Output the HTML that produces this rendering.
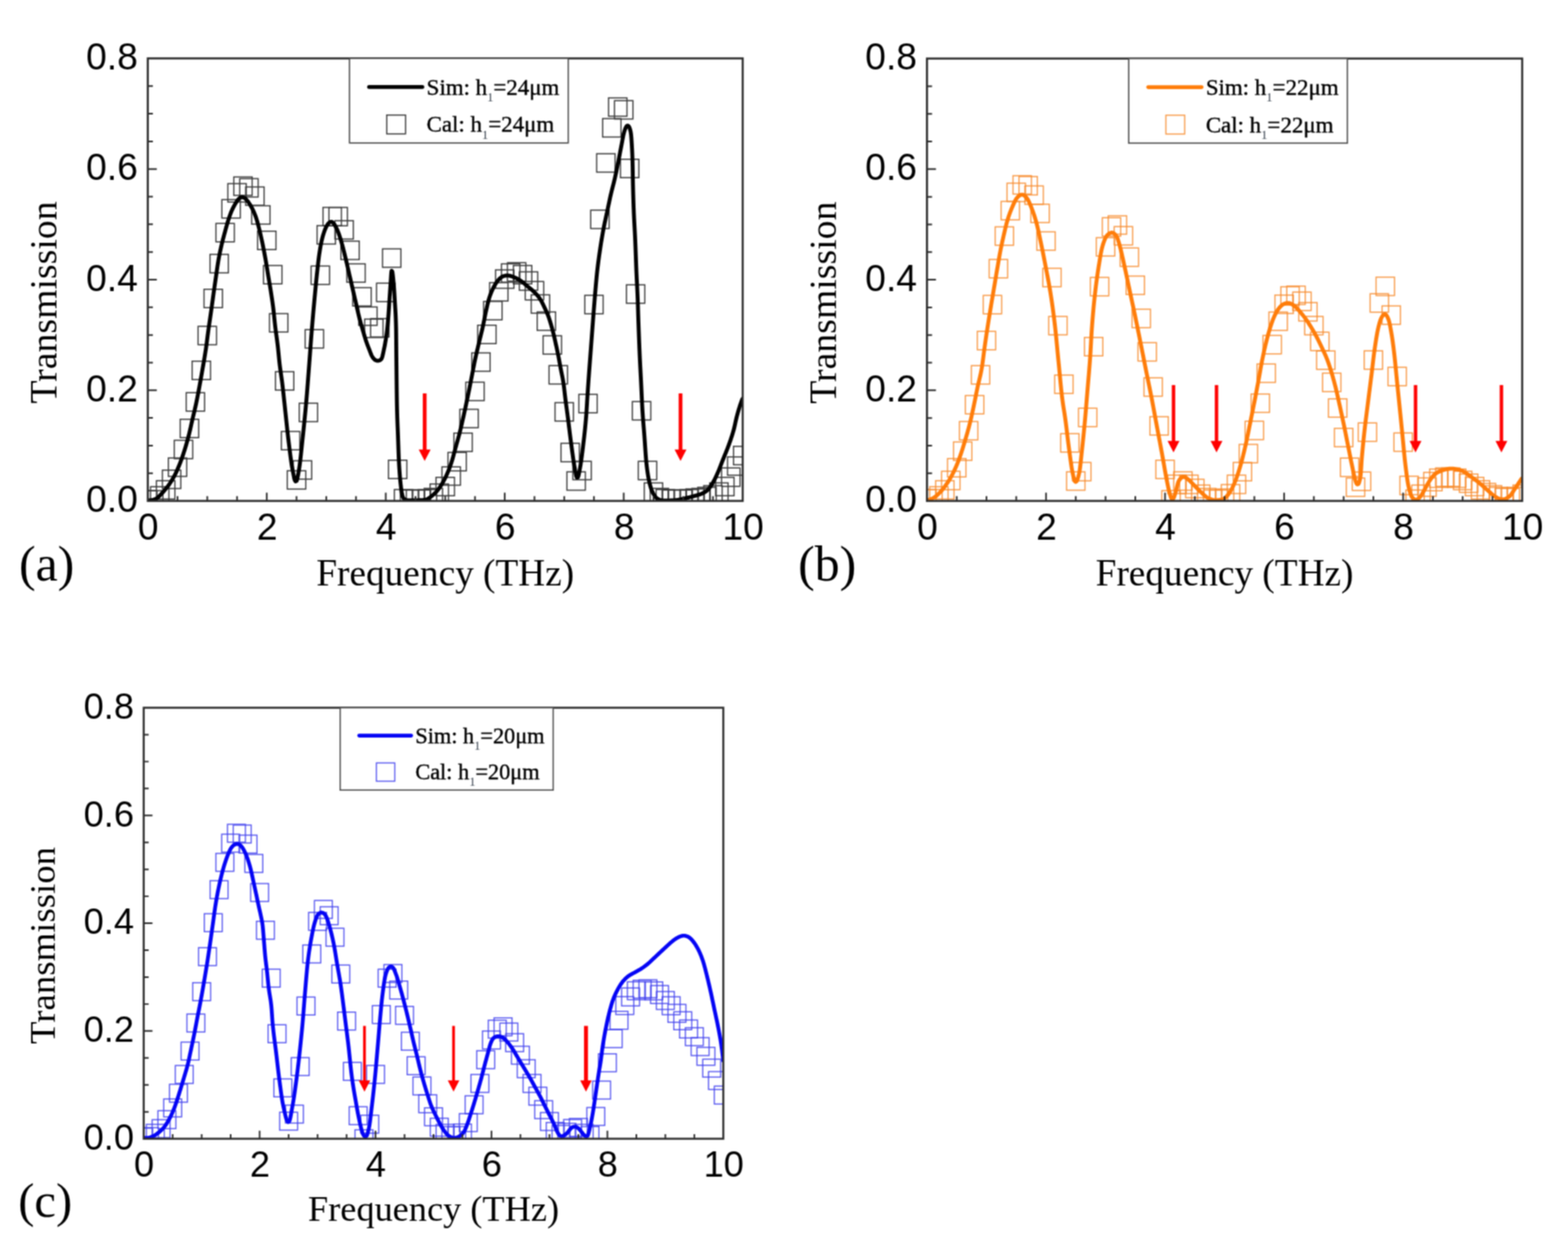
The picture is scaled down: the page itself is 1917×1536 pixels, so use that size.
<!DOCTYPE html>
<html><head><meta charset="utf-8"><title>Transmission spectra</title>
<style>html,body{margin:0;padding:0;background:#fff;}body{width:1917px;height:1536px;overflow:hidden;}svg{display:block;}</style>
</head><body>
<svg width="1917" height="1536" viewBox="0 0 1917 1536">
<rect x="0" y="0" width="1917" height="1536" fill="#ffffff"/>
<defs>
<filter id="soft" x="0" y="0" width="100%" height="100%" filterUnits="userSpaceOnUse" color-interpolation-filters="sRGB"><feConvolveMatrix order="3" kernelMatrix="1 2 1 2 4 2 1 2 1" divisor="16" edgeMode="duplicate"/></filter>
<clipPath id="clipa"><rect x="180.70" y="71.40" width="727.30" height="541.20"/></clipPath>
<clipPath id="clipb"><rect x="1133.30" y="71.60" width="727.70" height="541.00"/></clipPath>
<clipPath id="clipc"><rect x="175.70" y="865.50" width="708.60" height="527.10"/></clipPath>
</defs>
<g filter="url(#soft)">
<g clip-path="url(#clipa)" fill="none" stroke="#3c3c3c" stroke-width="1.50" stroke-opacity="1.00">
<rect x="169.45" y="600.00" width="22.50" height="22.50"/>
<rect x="176.72" y="600.00" width="22.50" height="22.50"/>
<rect x="184.00" y="595.26" width="22.50" height="22.50"/>
<rect x="191.27" y="587.82" width="22.50" height="22.50"/>
<rect x="198.54" y="574.97" width="22.50" height="22.50"/>
<rect x="205.81" y="560.08" width="22.50" height="22.50"/>
<rect x="213.09" y="538.44" width="22.50" height="22.50"/>
<rect x="220.36" y="512.73" width="22.50" height="22.50"/>
<rect x="227.63" y="480.26" width="22.50" height="22.50"/>
<rect x="234.91" y="441.70" width="22.50" height="22.50"/>
<rect x="242.18" y="399.08" width="22.50" height="22.50"/>
<rect x="249.45" y="353.75" width="22.50" height="22.50"/>
<rect x="256.73" y="311.13" width="22.50" height="22.50"/>
<rect x="264.00" y="273.25" width="22.50" height="22.50"/>
<rect x="271.27" y="244.16" width="22.50" height="22.50"/>
<rect x="278.54" y="224.54" width="22.50" height="22.50"/>
<rect x="285.82" y="216.42" width="22.50" height="22.50"/>
<rect x="293.09" y="218.45" width="22.50" height="22.50"/>
<rect x="300.36" y="228.60" width="22.50" height="22.50"/>
<rect x="307.64" y="251.60" width="22.50" height="22.50"/>
<rect x="314.91" y="282.72" width="22.50" height="22.50"/>
<rect x="322.18" y="324.66" width="22.50" height="22.50"/>
<rect x="329.46" y="383.52" width="22.50" height="22.50"/>
<rect x="336.73" y="454.55" width="22.50" height="22.50"/>
<rect x="344.00" y="527.61" width="22.50" height="22.50"/>
<rect x="351.27" y="575.64" width="22.50" height="22.50"/>
<rect x="358.55" y="563.47" width="22.50" height="22.50"/>
<rect x="365.82" y="493.11" width="22.50" height="22.50"/>
<rect x="373.09" y="403.14" width="22.50" height="22.50"/>
<rect x="380.37" y="325.34" width="22.50" height="22.50"/>
<rect x="387.64" y="275.95" width="22.50" height="22.50"/>
<rect x="394.91" y="253.63" width="22.50" height="22.50"/>
<rect x="402.19" y="253.63" width="22.50" height="22.50"/>
<rect x="409.46" y="269.87" width="22.50" height="22.50"/>
<rect x="416.73" y="294.90" width="22.50" height="22.50"/>
<rect x="424.00" y="322.63" width="22.50" height="22.50"/>
<rect x="431.28" y="351.72" width="22.50" height="22.50"/>
<rect x="438.55" y="375.40" width="22.50" height="22.50"/>
<rect x="445.82" y="390.28" width="22.50" height="22.50"/>
<rect x="453.10" y="389.61" width="22.50" height="22.50"/>
<rect x="460.37" y="346.31" width="22.50" height="22.50"/>
<rect x="467.64" y="304.37" width="22.50" height="22.50"/>
<rect x="474.92" y="562.79" width="22.50" height="22.50"/>
<rect x="482.19" y="598.64" width="22.50" height="22.50"/>
<rect x="489.46" y="599.32" width="22.50" height="22.50"/>
<rect x="496.73" y="599.32" width="22.50" height="22.50"/>
<rect x="504.01" y="599.32" width="22.50" height="22.50"/>
<rect x="511.28" y="598.64" width="22.50" height="22.50"/>
<rect x="518.55" y="597.29" width="22.50" height="22.50"/>
<rect x="525.83" y="591.88" width="22.50" height="22.50"/>
<rect x="533.10" y="583.76" width="22.50" height="22.50"/>
<rect x="540.37" y="570.91" width="22.50" height="22.50"/>
<rect x="547.65" y="553.32" width="22.50" height="22.50"/>
<rect x="554.92" y="529.64" width="22.50" height="22.50"/>
<rect x="562.19" y="500.55" width="22.50" height="22.50"/>
<rect x="569.46" y="467.40" width="22.50" height="22.50"/>
<rect x="576.74" y="431.55" width="22.50" height="22.50"/>
<rect x="584.01" y="397.72" width="22.50" height="22.50"/>
<rect x="591.28" y="368.63" width="22.50" height="22.50"/>
<rect x="598.56" y="345.63" width="22.50" height="22.50"/>
<rect x="605.83" y="330.07" width="22.50" height="22.50"/>
<rect x="613.10" y="322.63" width="22.50" height="22.50"/>
<rect x="620.38" y="321.28" width="22.50" height="22.50"/>
<rect x="627.65" y="324.66" width="22.50" height="22.50"/>
<rect x="634.92" y="332.44" width="22.50" height="22.50"/>
<rect x="642.19" y="344.28" width="22.50" height="22.50"/>
<rect x="649.47" y="360.52" width="22.50" height="22.50"/>
<rect x="656.74" y="381.49" width="22.50" height="22.50"/>
<rect x="664.01" y="410.58" width="22.50" height="22.50"/>
<rect x="671.29" y="447.11" width="22.50" height="22.50"/>
<rect x="678.56" y="492.43" width="22.50" height="22.50"/>
<rect x="685.83" y="542.16" width="22.50" height="22.50"/>
<rect x="693.11" y="577.00" width="22.50" height="22.50"/>
<rect x="700.38" y="564.14" width="22.50" height="22.50"/>
<rect x="707.65" y="482.29" width="22.50" height="22.50"/>
<rect x="714.92" y="361.19" width="22.50" height="22.50"/>
<rect x="722.20" y="257.01" width="22.50" height="22.50"/>
<rect x="729.47" y="188.01" width="22.50" height="22.50"/>
<rect x="736.74" y="145.05" width="22.50" height="22.50"/>
<rect x="744.02" y="119.68" width="22.50" height="22.50"/>
<rect x="751.29" y="123.06" width="22.50" height="22.50"/>
<rect x="758.56" y="194.77" width="22.50" height="22.50"/>
<rect x="765.84" y="348.34" width="22.50" height="22.50"/>
<rect x="773.11" y="491.08" width="22.50" height="22.50"/>
<rect x="780.38" y="564.14" width="22.50" height="22.50"/>
<rect x="787.65" y="590.53" width="22.50" height="22.50"/>
<rect x="794.93" y="597.29" width="22.50" height="22.50"/>
<rect x="802.20" y="598.64" width="22.50" height="22.50"/>
<rect x="809.47" y="599.32" width="22.50" height="22.50"/>
<rect x="816.75" y="599.32" width="22.50" height="22.50"/>
<rect x="824.02" y="599.32" width="22.50" height="22.50"/>
<rect x="831.29" y="598.64" width="22.50" height="22.50"/>
<rect x="838.57" y="597.97" width="22.50" height="22.50"/>
<rect x="845.84" y="597.29" width="22.50" height="22.50"/>
<rect x="853.11" y="595.94" width="22.50" height="22.50"/>
<rect x="860.38" y="593.91" width="22.50" height="22.50"/>
<rect x="867.66" y="590.53" width="22.50" height="22.50"/>
<rect x="874.93" y="583.76" width="22.50" height="22.50"/>
<rect x="882.20" y="572.26" width="22.50" height="22.50"/>
<rect x="889.48" y="558.73" width="22.50" height="22.50"/>
<rect x="896.75" y="545.88" width="22.50" height="22.50"/>
</g>
<path clip-path="url(#clipa)" d="M181.50,611.96 L182.86,611.85 L184.21,611.69 L185.42,611.51 L186.64,611.27 L187.85,610.99 L189.04,610.65 L190.19,610.21 L191.29,609.65 L192.31,608.97 L193.26,608.18 L194.16,607.32 L195.03,606.43 L195.87,605.51 L196.72,604.59 L197.56,603.67 L198.41,602.75 L199.26,601.83 L200.09,600.90 L200.92,599.96 L201.73,599.01 L202.52,598.05 L203.31,597.07 L204.08,596.09 L204.84,595.10 L205.58,594.09 L206.31,593.08 L207.03,592.06 L207.74,591.02 L208.43,589.98 L209.11,588.93 L209.77,587.88 L210.42,586.81 L211.07,585.74 L211.69,584.66 L212.31,583.57 L212.91,582.47 L213.50,581.37 L214.07,580.26 L214.63,579.14 L215.17,578.02 L215.70,576.88 L216.22,575.75 L216.73,574.61 L217.23,573.46 L217.72,572.31 L218.20,571.16 L218.68,570.00 L219.15,568.84 L219.62,567.68 L220.07,566.52 L220.52,565.36 L220.97,564.19 L221.40,563.01 L221.83,561.84 L222.25,560.66 L222.67,559.48 L223.07,558.30 L223.48,557.12 L223.88,555.93 L224.27,554.75 L224.66,553.56 L225.04,552.37 L225.42,551.18 L225.80,549.99 L226.17,548.79 L226.53,547.60 L226.89,546.40 L227.25,545.20 L227.60,544.00 L227.95,542.80 L228.29,541.60 L228.63,540.40 L228.97,539.19 L229.30,537.99 L229.62,536.78 L229.95,535.57 L230.26,534.37 L230.58,533.16 L230.89,531.94 L231.19,530.73 L231.48,529.52 L231.77,528.30 L232.06,527.08 L232.34,525.87 L232.62,524.65 L232.90,523.43 L233.18,522.21 L233.45,520.99 L233.72,519.77 L234.00,518.55 L234.27,517.33 L234.55,516.11 L234.82,514.89 L235.10,513.67 L235.38,512.46 L235.67,511.24 L235.95,510.02 L236.24,508.81 L236.53,507.59 L236.82,506.37 L237.11,505.16 L237.40,503.94 L237.69,502.73 L237.97,501.51 L238.26,500.29 L238.54,499.07 L238.82,497.86 L239.09,496.64 L239.36,495.42 L239.63,494.19 L239.89,492.97 L240.15,491.75 L240.40,490.53 L240.65,489.30 L240.90,488.08 L241.14,486.85 L241.38,485.62 L241.62,484.39 L241.85,483.17 L242.09,481.94 L242.32,480.71 L242.55,479.48 L242.78,478.25 L243.01,477.02 L243.23,475.80 L243.46,474.57 L243.69,473.34 L243.92,472.11 L244.14,470.88 L244.37,469.65 L244.59,468.42 L244.82,467.19 L245.04,465.96 L245.26,464.73 L245.48,463.50 L245.70,462.27 L245.92,461.04 L246.14,459.81 L246.36,458.58 L246.57,457.34 L246.79,456.11 L247.00,454.88 L247.22,453.65 L247.43,452.42 L247.65,451.19 L247.86,449.96 L248.07,448.72 L248.29,447.49 L248.50,446.26 L248.72,445.03 L248.93,443.80 L249.14,442.57 L249.36,441.33 L249.57,440.10 L249.78,438.87 L249.99,437.64 L250.19,436.41 L250.40,435.17 L250.60,433.94 L250.80,432.70 L251.00,431.47 L251.19,430.24 L251.38,429.00 L251.57,427.76 L251.75,426.53 L251.93,425.29 L252.10,424.05 L252.27,422.81 L252.44,421.58 L252.60,420.34 L252.77,419.10 L252.93,417.86 L253.08,416.62 L253.24,415.38 L253.40,414.14 L253.56,412.90 L253.71,411.66 L253.87,410.42 L254.03,409.18 L254.19,407.94 L254.36,406.70 L254.52,405.46 L254.69,404.22 L254.86,402.98 L255.04,401.75 L255.21,400.51 L255.39,399.27 L255.57,398.03 L255.76,396.80 L255.94,395.56 L256.12,394.32 L256.31,393.09 L256.49,391.85 L256.68,390.62 L256.86,389.38 L257.04,388.14 L257.22,386.91 L257.40,385.67 L257.58,384.43 L257.75,383.19 L257.93,381.96 L258.10,380.72 L258.27,379.48 L258.44,378.24 L258.61,377.00 L258.78,375.76 L258.95,374.52 L259.12,373.29 L259.28,372.05 L259.45,370.81 L259.62,369.57 L259.79,368.33 L259.97,367.09 L260.14,365.86 L260.31,364.62 L260.48,363.38 L260.66,362.14 L260.83,360.90 L261.00,359.67 L261.18,358.43 L261.35,357.19 L261.53,355.95 L261.70,354.72 L261.88,353.48 L262.06,352.24 L262.23,351.00 L262.41,349.77 L262.58,348.53 L262.76,347.29 L262.94,346.05 L263.12,344.82 L263.30,343.58 L263.47,342.34 L263.65,341.10 L263.83,339.87 L264.01,338.63 L264.19,337.39 L264.36,336.16 L264.54,334.92 L264.72,333.68 L264.89,332.44 L265.07,331.20 L265.24,329.97 L265.42,328.73 L265.60,327.49 L265.78,326.26 L265.96,325.02 L266.15,323.78 L266.34,322.55 L266.54,321.31 L266.74,320.08 L266.95,318.85 L267.16,317.62 L267.38,316.39 L267.61,315.16 L267.84,313.93 L268.08,312.70 L268.32,311.47 L268.56,310.25 L268.81,309.02 L269.06,307.80 L269.32,306.58 L269.59,305.36 L269.85,304.13 L270.13,302.91 L270.40,301.69 L270.68,300.48 L270.97,299.26 L271.26,298.04 L271.55,296.83 L271.85,295.62 L272.16,294.40 L272.47,293.19 L272.79,291.98 L273.11,290.78 L273.43,289.57 L273.75,288.36 L274.07,287.15 L274.39,285.94 L274.72,284.74 L275.04,283.53 L275.37,282.32 L275.69,281.12 L276.02,279.91 L276.35,278.70 L276.68,277.50 L277.02,276.29 L277.36,275.09 L277.71,273.89 L278.06,272.69 L278.42,271.50 L278.79,270.30 L279.17,269.11 L279.55,267.92 L279.94,266.73 L280.34,265.55 L280.74,264.36 L281.15,263.19 L281.58,262.01 L282.02,260.84 L282.48,259.68 L282.95,258.52 L283.45,257.37 L283.96,256.24 L284.50,255.11 L285.05,253.99 L285.62,252.87 L286.21,251.77 L286.82,250.68 L287.44,249.60 L288.08,248.52 L288.73,247.46 L289.41,246.41 L290.12,245.38 L290.86,244.38 L291.65,243.42 L292.49,242.54 L293.60,241.67 L294.85,241.16 L296.20,241.09 L297.56,241.41 L298.85,242.04 L299.83,242.76 L300.73,243.59 L301.57,244.51 L302.37,245.46 L303.13,246.46 L303.85,247.47 L304.55,248.51 L305.23,249.56 L305.88,250.62 L306.51,251.70 L307.13,252.78 L307.73,253.88 L308.32,254.99 L308.88,256.10 L309.43,257.22 L309.95,258.36 L310.46,259.50 L310.96,260.65 L311.43,261.80 L311.89,262.96 L312.34,264.13 L312.76,265.31 L313.17,266.49 L313.56,267.67 L313.93,268.87 L314.29,270.07 L314.63,271.27 L314.96,272.47 L315.28,273.68 L315.60,274.89 L315.91,276.10 L316.22,277.31 L316.53,278.52 L316.83,279.74 L317.13,280.95 L317.43,282.16 L317.72,283.38 L318.01,284.59 L318.30,285.81 L318.58,287.03 L318.85,288.25 L319.13,289.47 L319.40,290.69 L319.67,291.91 L319.93,293.13 L320.19,294.35 L320.45,295.58 L320.71,296.80 L320.97,298.02 L321.22,299.25 L321.47,300.47 L321.72,301.70 L321.96,302.92 L322.21,304.15 L322.44,305.38 L322.68,306.60 L322.92,307.83 L323.15,309.06 L323.38,310.29 L323.61,311.52 L323.84,312.74 L324.06,313.97 L324.29,315.20 L324.51,316.43 L324.73,317.67 L324.94,318.90 L325.15,320.13 L325.36,321.36 L325.57,322.59 L325.77,323.83 L325.98,325.06 L326.18,326.29 L326.38,327.53 L326.58,328.76 L326.78,330.00 L326.98,331.23 L327.17,332.46 L327.38,333.70 L327.58,334.93 L327.78,336.16 L327.98,337.40 L328.19,338.63 L328.40,339.86 L328.60,341.10 L328.81,342.33 L329.02,343.56 L329.23,344.79 L329.44,346.03 L329.64,347.26 L329.85,348.49 L330.05,349.73 L330.25,350.96 L330.45,352.19 L330.65,353.43 L330.85,354.66 L331.04,355.90 L331.23,357.13 L331.43,358.37 L331.62,359.60 L331.81,360.84 L332.00,362.07 L332.19,363.31 L332.38,364.54 L332.57,365.78 L332.75,367.02 L332.93,368.25 L333.11,369.49 L333.28,370.73 L333.45,371.97 L333.62,373.21 L333.78,374.44 L333.94,375.68 L334.10,376.92 L334.24,378.17 L334.39,379.41 L334.53,380.65 L334.66,381.89 L334.79,383.14 L334.92,384.38 L335.04,385.62 L335.16,386.87 L335.29,388.11 L335.41,389.36 L335.53,390.60 L335.66,391.84 L335.79,393.09 L335.91,394.33 L336.05,395.57 L336.18,396.82 L336.32,398.06 L336.47,399.30 L336.62,400.54 L336.77,401.78 L336.93,403.02 L337.09,404.26 L337.26,405.50 L337.43,406.74 L337.60,407.97 L337.77,409.21 L337.95,410.45 L338.12,411.69 L338.29,412.93 L338.47,414.16 L338.63,415.40 L338.80,416.64 L338.96,417.88 L339.12,419.12 L339.27,420.36 L339.42,421.60 L339.57,422.84 L339.71,424.09 L339.84,425.33 L339.97,426.57 L340.10,427.82 L340.22,429.06 L340.35,430.30 L340.47,431.55 L340.59,432.79 L340.71,434.04 L340.83,435.28 L340.95,436.52 L341.07,437.77 L341.19,439.01 L341.32,440.26 L341.45,441.50 L341.58,442.74 L341.72,443.98 L341.86,445.23 L342.01,446.47 L342.17,447.71 L342.33,448.95 L342.49,450.19 L342.66,451.43 L342.83,452.66 L343.01,453.90 L343.19,455.14 L343.37,456.37 L343.55,457.61 L343.73,458.85 L343.92,460.08 L344.09,461.32 L344.27,462.56 L344.44,463.80 L344.61,465.04 L344.77,466.28 L344.93,467.52 L345.09,468.76 L345.24,470.00 L345.39,471.24 L345.53,472.48 L345.68,473.72 L345.82,474.96 L345.96,476.20 L346.10,477.45 L346.24,478.69 L346.37,479.93 L346.51,481.17 L346.64,482.42 L346.77,483.66 L346.90,484.90 L347.04,486.15 L347.17,487.39 L347.30,488.63 L347.43,489.88 L347.56,491.12 L347.69,492.36 L347.82,493.61 L347.95,494.85 L348.08,496.09 L348.22,497.33 L348.35,498.58 L348.48,499.82 L348.61,501.06 L348.75,502.31 L348.88,503.55 L349.02,504.79 L349.15,506.03 L349.29,507.28 L349.42,508.52 L349.56,509.76 L349.69,511.01 L349.82,512.25 L349.95,513.49 L350.08,514.73 L350.22,515.98 L350.35,517.22 L350.48,518.46 L350.61,519.71 L350.74,520.95 L350.88,522.19 L351.01,523.44 L351.14,524.68 L351.27,525.92 L351.41,527.16 L351.54,528.41 L351.68,529.65 L351.82,530.89 L351.95,532.13 L352.09,533.38 L352.23,534.62 L352.38,535.86 L352.52,537.10 L352.66,538.34 L352.81,539.59 L352.96,540.83 L353.11,542.07 L353.27,543.31 L353.42,544.55 L353.58,545.79 L353.73,547.03 L353.89,548.27 L354.04,549.51 L354.20,550.75 L354.36,551.99 L354.52,553.23 L354.68,554.47 L354.84,555.71 L355.00,556.95 L355.16,558.19 L355.33,559.43 L355.50,560.66 L355.67,561.90 L355.84,563.14 L356.02,564.38 L356.20,565.62 L356.38,566.85 L356.57,568.09 L356.77,569.32 L356.97,570.55 L357.19,571.79 L357.41,573.02 L357.64,574.24 L357.87,575.47 L358.11,576.70 L358.34,577.93 L358.58,579.16 L358.81,580.38 L359.05,581.61 L359.30,582.84 L359.56,584.06 L359.84,585.27 L360.15,586.45 L360.62,587.74 L361.43,588.76 L362.51,588.16 L363.02,587.00 L363.41,585.61 L363.69,584.40 L363.94,583.18 L364.18,581.95 L364.41,580.72 L364.63,579.49 L364.85,578.26 L365.07,577.03 L365.28,575.80 L365.50,574.57 L365.70,573.33 L365.90,572.10 L366.09,570.86 L366.27,569.63 L366.44,568.39 L366.60,567.15 L366.76,565.91 L366.91,564.67 L367.06,563.43 L367.21,562.19 L367.35,560.94 L367.49,559.70 L367.63,558.46 L367.76,557.22 L367.90,555.97 L368.03,554.73 L368.16,553.49 L368.29,552.25 L368.42,551.00 L368.55,549.76 L368.68,548.52 L368.81,547.27 L368.94,546.03 L369.07,544.79 L369.20,543.54 L369.33,542.30 L369.46,541.06 L369.59,539.81 L369.72,538.57 L369.85,537.33 L369.99,536.08 L370.12,534.84 L370.25,533.60 L370.39,532.36 L370.52,531.11 L370.65,529.87 L370.78,528.63 L370.91,527.38 L371.04,526.14 L371.17,524.90 L371.30,523.65 L371.43,522.41 L371.56,521.17 L371.69,519.92 L371.81,518.68 L371.94,517.44 L372.06,516.19 L372.19,514.95 L372.31,513.70 L372.43,512.46 L372.56,511.22 L372.68,509.97 L372.80,508.73 L372.92,507.48 L373.04,506.24 L373.16,505.00 L373.28,503.75 L373.39,502.51 L373.51,501.26 L373.62,500.02 L373.74,498.77 L373.85,497.53 L373.97,496.28 L374.08,495.04 L374.19,493.79 L374.30,492.55 L374.41,491.30 L374.52,490.06 L374.63,488.81 L374.74,487.57 L374.84,486.32 L374.95,485.08 L375.05,483.83 L375.15,482.58 L375.26,481.34 L375.36,480.09 L375.46,478.85 L375.56,477.60 L375.66,476.35 L375.76,475.11 L375.85,473.86 L375.95,472.62 L376.05,471.37 L376.15,470.12 L376.25,468.88 L376.34,467.63 L376.44,466.39 L376.53,465.14 L376.63,463.89 L376.73,462.65 L376.82,461.40 L376.92,460.15 L377.01,458.91 L377.11,457.66 L377.21,456.41 L377.30,455.17 L377.40,453.92 L377.49,452.68 L377.59,451.43 L377.69,450.18 L377.78,448.94 L377.88,447.69 L377.97,446.44 L378.07,445.20 L378.16,443.95 L378.25,442.70 L378.35,441.46 L378.44,440.21 L378.53,438.96 L378.62,437.72 L378.71,436.47 L378.81,435.22 L378.90,433.98 L378.99,432.73 L379.08,431.48 L379.17,430.24 L379.26,428.99 L379.35,427.74 L379.44,426.50 L379.53,425.25 L379.63,424.00 L379.72,422.76 L379.81,421.51 L379.90,420.26 L380.00,419.02 L380.09,417.77 L380.18,416.53 L380.28,415.28 L380.37,414.03 L380.47,412.79 L380.56,411.54 L380.66,410.29 L380.76,409.05 L380.86,407.80 L380.96,406.56 L381.06,405.31 L381.16,404.06 L381.26,402.82 L381.36,401.57 L381.47,400.33 L381.57,399.08 L381.67,397.83 L381.78,396.59 L381.88,395.34 L381.99,394.10 L382.09,392.85 L382.20,391.61 L382.31,390.36 L382.41,389.12 L382.52,387.87 L382.63,386.63 L382.74,385.38 L382.85,384.14 L382.96,382.89 L383.07,381.64 L383.18,380.40 L383.29,379.15 L383.40,377.91 L383.51,376.66 L383.62,375.42 L383.74,374.17 L383.85,372.93 L383.96,371.69 L384.08,370.44 L384.19,369.20 L384.30,367.95 L384.42,366.71 L384.53,365.46 L384.65,364.22 L384.76,362.97 L384.88,361.73 L385.00,360.48 L385.11,359.24 L385.23,357.99 L385.34,356.75 L385.46,355.50 L385.58,354.26 L385.70,353.02 L385.82,351.77 L385.94,350.53 L386.06,349.28 L386.18,348.04 L386.30,346.79 L386.42,345.55 L386.55,344.31 L386.67,343.06 L386.80,341.82 L386.92,340.58 L387.05,339.33 L387.18,338.09 L387.31,336.85 L387.44,335.60 L387.57,334.36 L387.71,333.12 L387.84,331.87 L387.97,330.63 L388.11,329.39 L388.24,328.15 L388.38,326.90 L388.51,325.66 L388.65,324.42 L388.79,323.18 L388.93,321.93 L389.07,320.69 L389.22,319.45 L389.36,318.21 L389.52,316.97 L389.67,315.73 L389.83,314.49 L389.99,313.25 L390.16,312.01 L390.34,310.77 L390.52,309.54 L390.71,308.30 L390.90,307.06 L391.09,305.83 L391.30,304.60 L391.50,303.36 L391.72,302.13 L391.94,300.90 L392.17,299.67 L392.42,298.45 L392.67,297.22 L392.93,296.00 L393.20,294.78 L393.48,293.56 L393.77,292.35 L394.07,291.14 L394.39,289.93 L394.72,288.72 L395.06,287.52 L395.42,286.32 L395.80,285.13 L396.19,283.94 L396.60,282.76 L397.03,281.59 L397.49,280.43 L397.97,279.28 L398.49,278.14 L399.04,277.02 L399.63,275.92 L400.28,274.86 L400.99,273.85 L401.79,272.92 L402.86,271.97 L404.04,271.36 L405.25,271.27 L406.41,271.75 L407.43,272.67 L408.19,273.62 L408.90,274.64 L409.56,275.69 L410.20,276.77 L410.80,277.86 L411.36,278.98 L411.89,280.11 L412.39,281.25 L412.87,282.41 L413.33,283.57 L413.78,284.73 L414.22,285.90 L414.64,287.08 L415.06,288.26 L415.45,289.44 L415.84,290.63 L416.21,291.83 L416.56,293.02 L416.92,294.22 L417.26,295.42 L417.60,296.63 L417.94,297.83 L418.27,299.04 L418.60,300.24 L418.92,301.45 L419.25,302.66 L419.56,303.87 L419.88,305.08 L420.19,306.29 L420.49,307.50 L420.79,308.71 L421.09,309.93 L421.39,311.14 L421.68,312.36 L421.97,313.57 L422.27,314.79 L422.56,316.00 L422.85,317.22 L423.14,318.43 L423.43,319.65 L423.71,320.87 L423.99,322.08 L424.27,323.30 L424.55,324.52 L424.83,325.74 L425.11,326.96 L425.39,328.18 L425.67,329.40 L425.94,330.61 L426.22,331.83 L426.50,333.05 L426.78,334.27 L427.06,335.49 L427.34,336.71 L427.62,337.92 L427.90,339.14 L428.18,340.36 L428.46,341.58 L428.74,342.80 L429.02,344.02 L429.30,345.23 L429.58,346.45 L429.86,347.67 L430.14,348.89 L430.43,350.11 L430.71,351.32 L430.99,352.54 L431.27,353.76 L431.55,354.98 L431.83,356.20 L432.11,357.41 L432.39,358.63 L432.67,359.85 L432.95,361.07 L433.23,362.29 L433.51,363.50 L433.79,364.72 L434.07,365.94 L434.35,367.16 L434.63,368.38 L434.91,369.60 L435.19,370.81 L435.47,372.03 L435.75,373.25 L436.02,374.47 L436.29,375.69 L436.57,376.91 L436.84,378.13 L437.11,379.35 L437.39,380.57 L437.67,381.79 L437.95,383.01 L438.24,384.22 L438.53,385.44 L438.82,386.65 L439.12,387.87 L439.43,389.08 L439.75,390.29 L440.07,391.49 L440.40,392.70 L440.73,393.91 L441.07,395.11 L441.41,396.31 L441.75,397.51 L442.10,398.72 L442.45,399.92 L442.79,401.12 L443.14,402.32 L443.49,403.52 L443.84,404.72 L444.18,405.92 L444.53,407.12 L444.88,408.32 L445.23,409.52 L445.58,410.72 L445.94,411.92 L446.30,413.11 L446.67,414.31 L447.05,415.50 L447.44,416.69 L447.85,417.87 L448.26,419.05 L448.68,420.22 L449.11,421.40 L449.55,422.57 L450.00,423.74 L450.45,424.90 L450.91,426.06 L451.36,427.23 L451.82,428.39 L452.26,429.56 L452.70,430.73 L453.15,431.90 L453.60,433.06 L454.09,434.21 L454.62,435.33 L455.23,436.41 L455.93,437.43 L456.71,438.39 L457.57,439.27 L458.51,440.04 L459.75,440.74 L461.11,441.11 L462.52,441.11 L463.89,440.78 L465.12,440.14 L466.10,439.18 L466.81,437.97 L467.23,436.83 L467.57,435.64 L467.87,434.43 L468.14,433.21 L468.41,431.99 L468.67,430.76 L468.93,429.54 L469.19,428.32 L469.45,427.10 L469.71,425.87 L469.96,424.65 L470.21,423.42 L470.45,422.20 L470.68,420.97 L470.90,419.74 L471.11,418.51 L471.32,417.27 L471.53,416.04 L471.72,414.81 L471.91,413.57 L472.10,412.33 L472.28,411.10 L472.45,409.86 L472.62,408.62 L472.78,407.38 L472.94,406.14 L473.09,404.90 L473.23,403.66 L473.37,402.42 L473.50,401.17 L473.62,399.93 L473.75,398.69 L473.87,397.44 L473.98,396.20 L474.10,394.95 L474.21,393.71 L474.32,392.46 L474.43,391.22 L474.53,389.97 L474.64,388.73 L474.74,387.48 L474.84,386.23 L474.94,384.99 L475.03,383.74 L475.12,382.50 L475.21,381.25 L475.30,380.00 L475.38,378.75 L475.46,377.51 L475.55,376.26 L475.63,375.01 L475.71,373.76 L475.79,372.52 L475.87,371.27 L475.95,370.02 L476.04,368.78 L476.12,367.53 L476.20,366.28 L476.29,365.03 L476.37,363.79 L476.45,362.54 L476.54,361.29 L476.62,360.05 L476.70,358.80 L476.79,357.55 L476.87,356.30 L476.95,355.06 L477.04,353.81 L477.12,352.56 L477.21,351.31 L477.30,350.07 L477.38,348.82 L477.47,347.57 L477.56,346.33 L477.65,345.08 L477.73,343.83 L477.81,342.59 L477.89,341.34 L477.96,340.09 L478.04,338.84 L478.11,337.59 L478.19,336.35 L478.27,335.10 L478.36,333.87 L478.50,332.46 L478.75,331.18 L479.62,332.16 L479.87,333.53 L480.04,334.75 L480.19,335.98 L480.33,337.23 L480.46,338.47 L480.59,339.71 L480.72,340.96 L480.84,342.20 L480.97,343.44 L481.09,344.69 L481.21,345.93 L481.32,347.18 L481.43,348.42 L481.53,349.67 L481.63,350.91 L481.72,352.16 L481.81,353.41 L481.89,354.65 L481.97,355.90 L482.05,357.15 L482.13,358.40 L482.20,359.65 L482.28,360.89 L482.35,362.14 L482.43,363.39 L482.50,364.64 L482.57,365.88 L482.64,367.13 L482.71,368.38 L482.78,369.63 L482.85,370.88 L482.93,372.12 L483.01,373.37 L483.08,374.62 L483.16,375.87 L483.24,377.11 L483.32,378.36 L483.40,379.61 L483.47,380.86 L483.54,382.11 L483.60,383.35 L483.66,384.60 L483.72,385.85 L483.77,387.10 L483.82,388.35 L483.87,389.60 L483.92,390.85 L483.96,392.10 L484.00,393.35 L484.04,394.59 L484.07,395.84 L484.11,397.09 L484.14,398.34 L484.17,399.59 L484.20,400.84 L484.23,402.09 L484.25,403.34 L484.27,404.59 L484.28,405.84 L484.30,407.09 L484.31,408.34 L484.32,409.59 L484.34,410.84 L484.35,412.09 L484.36,413.34 L484.37,414.59 L484.38,415.84 L484.39,417.09 L484.40,418.34 L484.42,419.59 L484.43,420.84 L484.44,422.09 L484.45,423.34 L484.46,424.59 L484.47,425.84 L484.48,427.09 L484.49,428.34 L484.50,429.59 L484.51,430.84 L484.52,432.09 L484.53,433.34 L484.55,434.59 L484.56,435.84 L484.57,437.09 L484.58,438.34 L484.60,439.59 L484.61,440.84 L484.62,442.09 L484.64,443.34 L484.65,444.59 L484.66,445.84 L484.68,447.09 L484.69,448.34 L484.71,449.59 L484.72,450.84 L484.73,452.09 L484.75,453.34 L484.76,454.59 L484.77,455.84 L484.79,457.09 L484.80,458.34 L484.81,459.59 L484.83,460.84 L484.84,462.09 L484.85,463.34 L484.87,464.59 L484.88,465.84 L484.90,467.09 L484.91,468.34 L484.92,469.59 L484.94,470.84 L484.95,472.09 L484.97,473.34 L484.98,474.59 L485.00,475.84 L485.01,477.09 L485.03,478.34 L485.04,479.59 L485.06,480.84 L485.08,482.09 L485.09,483.34 L485.11,484.59 L485.13,485.84 L485.15,487.09 L485.16,488.34 L485.18,489.59 L485.20,490.84 L485.23,492.09 L485.25,493.34 L485.27,494.59 L485.30,495.84 L485.33,497.09 L485.35,498.34 L485.38,499.59 L485.42,500.83 L485.45,502.08 L485.48,503.33 L485.51,504.58 L485.55,505.83 L485.59,507.08 L485.62,508.33 L485.66,509.58 L485.70,510.83 L485.74,512.08 L485.79,513.33 L485.83,514.58 L485.88,515.83 L485.92,517.08 L485.97,518.33 L486.02,519.57 L486.07,520.82 L486.12,522.07 L486.18,523.32 L486.23,524.57 L486.28,525.82 L486.33,527.07 L486.38,528.32 L486.43,529.57 L486.48,530.82 L486.53,532.06 L486.57,533.31 L486.62,534.56 L486.66,535.81 L486.71,537.06 L486.75,538.31 L486.79,539.56 L486.84,540.81 L486.88,542.06 L486.92,543.31 L486.96,544.56 L487.01,545.81 L487.05,547.06 L487.09,548.30 L487.13,549.55 L487.18,550.80 L487.22,552.05 L487.27,553.30 L487.31,554.55 L487.36,555.80 L487.40,557.05 L487.45,558.30 L487.50,559.55 L487.56,560.80 L487.61,562.04 L487.67,563.29 L487.73,564.54 L487.79,565.79 L487.86,567.04 L487.93,568.29 L488.00,569.53 L488.08,570.78 L488.16,572.03 L488.23,573.28 L488.32,574.52 L488.40,575.77 L488.48,577.02 L488.57,578.27 L488.66,579.51 L488.76,580.76 L488.86,582.00 L488.96,583.25 L489.07,584.50 L489.18,585.74 L489.29,586.99 L489.41,588.23 L489.54,589.47 L489.67,590.72 L489.81,591.96 L489.95,593.20 L490.10,594.44 L490.24,595.68 L490.39,596.92 L490.55,598.16 L490.71,599.40 L490.88,600.64 L491.06,601.88 L491.26,603.11 L491.48,604.34 L491.75,605.55 L492.10,606.74 L492.55,607.89 L493.13,608.96 L494.01,610.08 L495.11,610.95 L496.40,611.50 L497.58,611.76 L498.81,611.89 L500.05,611.96 L501.30,611.98 L502.55,611.98 L503.80,611.97 L505.05,611.95 L506.30,611.93 L507.55,611.90 L508.80,611.87 L510.05,611.83 L511.30,611.79 L512.54,611.73 L513.79,611.68 L515.04,611.61 L516.29,611.54 L517.53,611.45 L518.77,611.32 L519.99,611.12 L521.18,610.81 L522.32,610.36 L523.41,609.79 L524.45,609.12 L525.47,608.39 L526.46,607.64 L527.44,606.86 L528.41,606.08 L529.37,605.27 L530.30,604.44 L531.21,603.59 L532.09,602.71 L532.96,601.80 L533.80,600.88 L534.61,599.93 L535.41,598.97 L536.18,597.99 L536.93,596.99 L537.66,595.98 L538.36,594.94 L539.04,593.89 L539.70,592.84 L540.35,591.77 L540.98,590.69 L541.60,589.60 L542.20,588.51 L542.80,587.41 L543.38,586.30 L543.95,585.19 L544.51,584.07 L545.05,582.94 L545.58,581.81 L546.10,580.68 L546.61,579.53 L547.10,578.39 L547.59,577.23 L548.06,576.08 L548.53,574.92 L548.99,573.76 L549.44,572.59 L549.88,571.42 L550.31,570.25 L550.73,569.07 L551.15,567.89 L551.55,566.71 L551.94,565.52 L552.32,564.33 L552.68,563.14 L553.04,561.94 L553.39,560.74 L553.73,559.53 L554.06,558.33 L554.39,557.12 L554.72,555.92 L555.05,554.71 L555.37,553.50 L555.69,552.30 L556.01,551.09 L556.34,549.88 L556.66,548.67 L556.99,547.47 L557.32,546.26 L557.65,545.06 L557.99,543.85 L558.33,542.65 L558.66,541.45 L559.00,540.24 L559.34,539.04 L559.67,537.83 L560.01,536.63 L560.34,535.42 L560.67,534.22 L560.99,533.01 L561.31,531.80 L561.63,530.59 L561.94,529.38 L562.25,528.17 L562.55,526.96 L562.85,525.75 L563.15,524.53 L563.44,523.31 L563.72,522.10 L564.01,520.88 L564.29,519.66 L564.57,518.45 L564.85,517.23 L565.13,516.01 L565.40,514.79 L565.68,513.57 L565.95,512.35 L566.22,511.13 L566.50,509.91 L566.77,508.69 L567.04,507.47 L567.31,506.25 L567.58,505.03 L567.85,503.81 L568.12,502.59 L568.39,501.37 L568.65,500.15 L568.92,498.92 L569.18,497.70 L569.45,496.48 L569.71,495.26 L569.97,494.04 L570.23,492.81 L570.49,491.59 L570.75,490.37 L571.00,489.14 L571.26,487.92 L571.52,486.70 L571.77,485.47 L572.02,484.25 L572.27,483.02 L572.52,481.80 L572.77,480.57 L573.02,479.35 L573.26,478.12 L573.51,476.90 L573.75,475.67 L574.00,474.45 L574.24,473.22 L574.48,471.99 L574.73,470.77 L574.97,469.54 L575.21,468.31 L575.45,467.09 L575.69,465.86 L575.94,464.64 L576.18,463.41 L576.42,462.18 L576.66,460.96 L576.90,459.73 L577.14,458.50 L577.37,457.27 L577.61,456.05 L577.85,454.82 L578.08,453.59 L578.32,452.36 L578.55,451.14 L578.79,449.91 L579.03,448.68 L579.27,447.45 L579.51,446.23 L579.75,445.00 L580.00,443.78 L580.25,442.55 L580.50,441.33 L580.76,440.10 L581.02,438.88 L581.28,437.66 L581.55,436.44 L581.82,435.22 L582.10,434.00 L582.37,432.78 L582.65,431.56 L582.94,430.35 L583.22,429.13 L583.51,427.91 L583.79,426.69 L584.08,425.48 L584.37,424.26 L584.66,423.05 L584.95,421.83 L585.24,420.61 L585.53,419.40 L585.82,418.18 L586.11,416.97 L586.41,415.75 L586.70,414.54 L587.00,413.32 L587.30,412.11 L587.60,410.90 L587.90,409.68 L588.20,408.47 L588.50,407.26 L588.79,406.04 L589.08,404.82 L589.37,403.61 L589.65,402.39 L589.93,401.17 L590.20,399.95 L590.47,398.73 L590.73,397.51 L590.98,396.28 L591.24,395.06 L591.48,393.83 L591.73,392.61 L591.97,391.38 L592.21,390.16 L592.45,388.93 L592.69,387.70 L592.94,386.48 L593.18,385.25 L593.43,384.03 L593.68,382.80 L593.94,381.58 L594.21,380.36 L594.48,379.14 L594.75,377.92 L595.02,376.70 L595.30,375.48 L595.58,374.26 L595.87,373.04 L596.15,371.83 L596.45,370.61 L596.75,369.40 L597.06,368.19 L597.38,366.98 L597.72,365.78 L598.08,364.58 L598.46,363.39 L598.86,362.21 L599.28,361.03 L599.71,359.86 L600.16,358.69 L600.63,357.53 L601.11,356.38 L601.62,355.24 L602.14,354.10 L602.68,352.98 L603.24,351.86 L603.81,350.75 L604.41,349.65 L605.01,348.56 L605.64,347.48 L606.30,346.42 L606.99,345.38 L607.71,344.36 L608.48,343.38 L609.29,342.43 L610.13,341.51 L611.01,340.62 L611.93,339.79 L612.90,339.04 L613.95,338.40 L615.06,337.89 L616.23,337.50 L617.44,337.21 L618.66,337.01 L619.90,336.90 L621.13,336.90 L622.35,337.03 L623.55,337.29 L624.74,337.65 L625.92,338.06 L627.09,338.49 L628.25,338.95 L629.41,339.42 L630.55,339.92 L631.68,340.45 L632.79,341.03 L633.87,341.65 L634.93,342.30 L635.98,342.99 L637.00,343.71 L638.01,344.44 L639.01,345.20 L639.99,345.97 L640.96,346.76 L641.91,347.56 L642.87,348.37 L643.82,349.18 L644.77,349.99 L645.73,350.78 L646.70,351.58 L647.67,352.36 L648.64,353.16 L649.60,353.96 L650.55,354.77 L651.48,355.60 L652.40,356.44 L653.31,357.30 L654.20,358.18 L655.07,359.08 L655.91,360.00 L656.73,360.94 L657.52,361.90 L658.29,362.89 L659.03,363.89 L659.75,364.92 L660.45,365.96 L661.11,367.01 L661.75,368.08 L662.36,369.17 L662.94,370.28 L663.50,371.40 L664.04,372.52 L664.57,373.65 L665.10,374.79 L665.63,375.92 L666.16,377.05 L666.70,378.18 L667.23,379.31 L667.76,380.44 L668.28,381.58 L668.78,382.72 L669.27,383.87 L669.75,385.03 L670.20,386.20 L670.63,387.37 L671.04,388.55 L671.44,389.73 L671.83,390.92 L672.20,392.11 L672.58,393.31 L672.94,394.50 L673.30,395.70 L673.66,396.90 L674.01,398.10 L674.36,399.30 L674.69,400.50 L675.03,401.70 L675.36,402.91 L675.68,404.12 L675.99,405.33 L676.30,406.54 L676.60,407.75 L676.90,408.97 L677.19,410.18 L677.47,411.40 L677.75,412.62 L678.03,413.84 L678.30,415.06 L678.58,416.28 L678.85,417.50 L679.12,418.72 L679.39,419.94 L679.65,421.16 L679.92,422.38 L680.19,423.60 L680.46,424.82 L680.72,426.04 L680.98,427.27 L681.24,428.49 L681.50,429.71 L681.75,430.94 L682.00,432.16 L682.25,433.39 L682.50,434.61 L682.74,435.84 L682.97,437.07 L683.21,438.29 L683.44,439.52 L683.66,440.75 L683.89,441.98 L684.11,443.21 L684.34,444.44 L684.56,445.67 L684.79,446.90 L685.01,448.13 L685.24,449.36 L685.47,450.59 L685.71,451.81 L685.95,453.04 L686.19,454.27 L686.44,455.49 L686.69,456.72 L686.95,457.94 L687.20,459.17 L687.44,460.39 L687.68,461.62 L687.92,462.84 L688.14,464.07 L688.36,465.31 L688.57,466.54 L688.77,467.77 L688.95,469.01 L689.13,470.24 L689.30,471.48 L689.46,472.72 L689.61,473.96 L689.77,475.20 L689.91,476.45 L690.06,477.69 L690.20,478.93 L690.34,480.17 L690.48,481.41 L690.63,482.65 L690.77,483.90 L690.91,485.14 L691.06,486.38 L691.21,487.62 L691.36,488.86 L691.52,490.10 L691.68,491.34 L691.84,492.58 L692.00,493.82 L692.17,495.06 L692.33,496.30 L692.50,497.54 L692.67,498.78 L692.84,500.01 L693.01,501.25 L693.17,502.49 L693.34,503.73 L693.51,504.97 L693.68,506.21 L693.84,507.45 L694.00,508.69 L694.17,509.93 L694.33,511.16 L694.49,512.40 L694.64,513.64 L694.80,514.88 L694.96,516.12 L695.11,517.37 L695.27,518.61 L695.42,519.85 L695.57,521.09 L695.73,522.33 L695.88,523.57 L696.03,524.81 L696.19,526.05 L696.34,527.29 L696.49,528.53 L696.65,529.77 L696.80,531.01 L696.96,532.25 L697.11,533.49 L697.27,534.73 L697.43,535.97 L697.59,537.21 L697.75,538.45 L697.91,539.69 L698.08,540.93 L698.24,542.17 L698.41,543.41 L698.58,544.65 L698.74,545.88 L698.91,547.12 L699.08,548.36 L699.24,549.60 L699.41,550.84 L699.58,552.08 L699.74,553.32 L699.91,554.56 L700.08,555.79 L700.25,557.03 L700.43,558.27 L700.60,559.51 L700.78,560.75 L700.96,561.98 L701.15,563.22 L701.34,564.45 L701.53,565.69 L701.73,566.92 L701.94,568.16 L702.15,569.39 L702.37,570.62 L702.59,571.85 L702.80,573.08 L703.02,574.31 L703.23,575.54 L703.44,576.78 L703.66,578.01 L703.88,579.24 L704.12,580.46 L704.38,581.66 L704.77,583.01 L705.36,584.13 L706.55,583.75 L707.02,582.60 L707.40,581.21 L707.67,580.00 L707.91,578.78 L708.14,577.55 L708.37,576.32 L708.60,575.09 L708.83,573.86 L709.05,572.63 L709.28,571.40 L709.50,570.17 L709.71,568.94 L709.91,567.71 L710.10,566.47 L710.29,565.24 L710.47,564.00 L710.65,562.76 L710.83,561.52 L711.00,560.29 L711.16,559.05 L711.32,557.81 L711.49,556.57 L711.64,555.33 L711.80,554.09 L711.96,552.85 L712.11,551.61 L712.26,550.37 L712.41,549.13 L712.57,547.88 L712.71,546.64 L712.86,545.40 L713.01,544.16 L713.16,542.92 L713.31,541.68 L713.46,540.44 L713.60,539.20 L713.75,537.95 L713.89,536.71 L714.04,535.47 L714.18,534.23 L714.32,532.99 L714.46,531.75 L714.59,530.50 L714.73,529.26 L714.86,528.02 L714.99,526.77 L715.12,525.53 L715.25,524.29 L715.37,523.04 L715.49,521.80 L715.61,520.55 L715.73,519.31 L715.85,518.07 L715.96,516.82 L716.07,515.58 L716.18,514.33 L716.29,513.09 L716.40,511.84 L716.50,510.59 L716.60,509.35 L716.70,508.10 L716.79,506.86 L716.88,505.61 L716.96,504.36 L717.05,503.11 L717.13,501.87 L717.21,500.62 L717.28,499.37 L717.36,498.12 L717.44,496.88 L717.51,495.63 L717.59,494.38 L717.66,493.13 L717.74,491.89 L717.81,490.64 L717.89,489.39 L717.97,488.14 L718.05,486.90 L718.13,485.65 L718.21,484.40 L718.29,483.15 L718.37,481.91 L718.46,480.66 L718.54,479.41 L718.62,478.16 L718.71,476.92 L718.79,475.67 L718.87,474.42 L718.96,473.18 L719.04,471.93 L719.13,470.68 L719.21,469.43 L719.30,468.19 L719.38,466.94 L719.47,465.69 L719.56,464.45 L719.65,463.20 L719.73,461.95 L719.82,460.71 L719.91,459.46 L720.00,458.21 L720.09,456.96 L720.18,455.72 L720.27,454.47 L720.36,453.22 L720.46,451.98 L720.55,450.73 L720.64,449.49 L720.74,448.24 L720.83,446.99 L720.92,445.75 L721.02,444.50 L721.11,443.25 L721.21,442.01 L721.30,440.76 L721.40,439.51 L721.50,438.27 L721.59,437.02 L721.69,435.77 L721.78,434.53 L721.88,433.28 L721.97,432.04 L722.07,430.79 L722.16,429.54 L722.26,428.30 L722.35,427.05 L722.44,425.80 L722.54,424.56 L722.63,423.31 L722.73,422.06 L722.82,420.82 L722.91,419.57 L723.01,418.32 L723.10,417.08 L723.20,415.83 L723.29,414.59 L723.38,413.34 L723.48,412.09 L723.57,410.85 L723.66,409.60 L723.76,408.35 L723.85,407.11 L723.95,405.86 L724.04,404.61 L724.13,403.37 L724.23,402.12 L724.32,400.87 L724.41,399.63 L724.51,398.38 L724.60,397.13 L724.70,395.89 L724.79,394.64 L724.89,393.40 L724.98,392.15 L725.07,390.90 L725.17,389.66 L725.26,388.41 L725.35,387.16 L725.45,385.92 L725.54,384.67 L725.64,383.42 L725.73,382.18 L725.83,380.93 L725.93,379.68 L726.02,378.44 L726.12,377.19 L726.22,375.95 L726.32,374.70 L726.42,373.45 L726.52,372.21 L726.62,370.96 L726.72,369.72 L726.82,368.47 L726.92,367.22 L727.02,365.98 L727.12,364.73 L727.22,363.49 L727.32,362.24 L727.43,361.00 L727.53,359.75 L727.64,358.50 L727.74,357.26 L727.85,356.01 L727.96,354.77 L728.07,353.52 L728.18,352.28 L728.29,351.03 L728.40,349.79 L728.51,348.54 L728.63,347.30 L728.74,346.05 L728.86,344.81 L728.97,343.56 L729.09,342.32 L729.21,341.07 L729.32,339.83 L729.44,338.59 L729.56,337.34 L729.69,336.10 L729.81,334.85 L729.94,333.61 L730.07,332.37 L730.20,331.12 L730.34,329.88 L730.47,328.64 L730.62,327.40 L730.76,326.16 L730.91,324.91 L731.06,323.67 L731.22,322.43 L731.37,321.19 L731.53,319.95 L731.69,318.71 L731.86,317.48 L732.03,316.24 L732.20,315.00 L732.37,313.76 L732.55,312.52 L732.72,311.29 L732.90,310.05 L733.08,308.81 L733.27,307.57 L733.45,306.34 L733.64,305.10 L733.82,303.87 L734.01,302.63 L734.20,301.39 L734.39,300.16 L734.58,298.92 L734.78,297.69 L734.97,296.45 L735.17,295.22 L735.37,293.99 L735.57,292.75 L735.78,291.52 L735.98,290.29 L736.19,289.05 L736.40,287.82 L736.62,286.59 L736.83,285.36 L737.05,284.13 L737.28,282.90 L737.50,281.67 L737.74,280.44 L737.97,279.21 L738.21,277.99 L738.45,276.76 L738.70,275.54 L738.95,274.31 L739.20,273.09 L739.46,271.86 L739.72,270.64 L739.99,269.42 L740.25,268.20 L740.52,266.98 L740.79,265.76 L741.05,264.54 L741.32,263.31 L741.59,262.09 L741.85,260.87 L742.12,259.65 L742.38,258.43 L742.64,257.20 L742.89,255.98 L743.15,254.76 L743.41,253.53 L743.67,252.31 L743.92,251.09 L744.18,249.86 L744.44,248.64 L744.69,247.42 L744.95,246.20 L745.21,244.97 L745.48,243.75 L745.74,242.53 L746.01,241.31 L746.28,240.09 L746.55,238.87 L746.83,237.65 L747.12,236.43 L747.41,235.22 L747.70,234.00 L748.00,232.79 L748.31,231.58 L748.62,230.37 L748.93,229.16 L749.24,227.95 L749.56,226.74 L749.87,225.53 L750.18,224.31 L750.49,223.10 L750.79,221.89 L751.09,220.68 L751.38,219.46 L751.66,218.24 L751.94,217.02 L752.21,215.80 L752.48,214.58 L752.74,213.36 L753.00,212.14 L753.26,210.92 L753.51,209.69 L753.77,208.47 L754.02,207.24 L754.27,206.02 L754.52,204.79 L754.76,203.57 L755.01,202.34 L755.26,201.12 L755.50,199.89 L755.74,198.66 L755.99,197.44 L756.22,196.21 L756.46,194.98 L756.70,193.76 L756.93,192.53 L757.16,191.30 L757.40,190.07 L757.63,188.84 L757.86,187.62 L758.09,186.39 L758.33,185.16 L758.56,183.93 L758.80,182.70 L759.03,181.48 L759.27,180.25 L759.51,179.02 L759.75,177.80 L759.98,176.57 L760.21,175.34 L760.44,174.11 L760.67,172.88 L760.89,171.65 L761.12,170.42 L761.35,169.19 L761.59,167.97 L761.83,166.74 L762.09,165.52 L762.36,164.30 L762.65,163.08 L762.97,161.88 L763.33,160.68 L763.71,159.49 L764.12,158.31 L764.56,157.14 L765.03,156.01 L765.70,154.76 L766.50,153.85 L767.72,153.63 L768.70,154.46 L769.37,155.64 L769.82,156.78 L770.20,157.96 L770.53,159.16 L770.83,160.37 L771.08,161.60 L771.29,162.83 L771.46,164.06 L771.60,165.30 L771.72,166.55 L771.82,167.79 L771.92,169.04 L772.01,170.29 L772.09,171.53 L772.18,172.78 L772.26,174.03 L772.33,175.28 L772.41,176.52 L772.48,177.77 L772.55,179.02 L772.62,180.27 L772.69,181.52 L772.76,182.76 L772.82,184.01 L772.88,185.26 L772.94,186.51 L772.99,187.76 L773.04,189.01 L773.09,190.26 L773.13,191.51 L773.17,192.75 L773.22,194.00 L773.25,195.25 L773.29,196.50 L773.33,197.75 L773.36,199.00 L773.39,200.25 L773.42,201.50 L773.45,202.75 L773.48,204.00 L773.50,205.25 L773.52,206.50 L773.54,207.75 L773.56,209.00 L773.58,210.25 L773.60,211.50 L773.62,212.75 L773.63,214.00 L773.65,215.25 L773.67,216.50 L773.69,217.75 L773.71,219.00 L773.73,220.25 L773.76,221.50 L773.78,222.75 L773.81,224.00 L773.83,225.25 L773.86,226.50 L773.89,227.75 L773.92,229.00 L773.95,230.25 L773.98,231.50 L774.01,232.75 L774.04,233.99 L774.08,235.24 L774.11,236.49 L774.14,237.74 L774.18,238.99 L774.22,240.24 L774.25,241.49 L774.29,242.74 L774.33,243.99 L774.37,245.24 L774.41,246.49 L774.45,247.74 L774.49,248.99 L774.53,250.24 L774.57,251.49 L774.62,252.74 L774.66,253.99 L774.71,255.23 L774.76,256.48 L774.81,257.73 L774.86,258.98 L774.91,260.23 L774.96,261.48 L775.02,262.73 L775.08,263.98 L775.13,265.23 L775.19,266.47 L775.25,267.72 L775.32,268.97 L775.38,270.22 L775.44,271.47 L775.51,272.72 L775.58,273.96 L775.64,275.21 L775.71,276.46 L775.78,277.71 L775.85,278.96 L775.92,280.20 L775.98,281.45 L776.05,282.70 L776.12,283.95 L776.18,285.20 L776.24,286.45 L776.31,287.69 L776.37,288.94 L776.43,290.19 L776.48,291.44 L776.54,292.69 L776.60,293.94 L776.65,295.19 L776.70,296.44 L776.75,297.68 L776.80,298.93 L776.85,300.18 L776.90,301.43 L776.95,302.68 L777.00,303.93 L777.04,305.18 L777.09,306.43 L777.14,307.68 L777.18,308.93 L777.23,310.18 L777.27,311.42 L777.32,312.67 L777.37,313.92 L777.41,315.17 L777.46,316.42 L777.50,317.67 L777.55,318.92 L777.59,320.17 L777.64,321.42 L777.69,322.67 L777.73,323.92 L777.78,325.17 L777.83,326.41 L777.88,327.66 L777.93,328.91 L777.98,330.16 L778.03,331.41 L778.08,332.66 L778.14,333.91 L778.19,335.16 L778.25,336.41 L778.31,337.65 L778.36,338.90 L778.42,340.15 L778.49,341.40 L778.55,342.65 L778.61,343.90 L778.67,345.15 L778.74,346.39 L778.80,347.64 L778.86,348.89 L778.93,350.14 L778.99,351.39 L779.05,352.64 L779.11,353.88 L779.17,355.13 L779.23,356.38 L779.29,357.63 L779.34,358.88 L779.40,360.13 L779.45,361.38 L779.50,362.63 L779.55,363.87 L779.60,365.12 L779.65,366.37 L779.69,367.62 L779.74,368.87 L779.78,370.12 L779.82,371.37 L779.86,372.62 L779.90,373.87 L779.94,375.12 L779.98,376.37 L780.01,377.62 L780.05,378.87 L780.09,380.12 L780.13,381.37 L780.16,382.61 L780.20,383.86 L780.24,385.11 L780.28,386.36 L780.32,387.61 L780.36,388.86 L780.40,390.11 L780.44,391.36 L780.48,392.61 L780.52,393.86 L780.57,395.11 L780.61,396.36 L780.66,397.61 L780.70,398.86 L780.74,400.10 L780.79,401.35 L780.83,402.60 L780.88,403.85 L780.92,405.10 L780.97,406.35 L781.02,407.60 L781.06,408.85 L781.11,410.10 L781.15,411.35 L781.20,412.60 L781.25,413.85 L781.30,415.09 L781.34,416.34 L781.39,417.59 L781.44,418.84 L781.49,420.09 L781.54,421.34 L781.59,422.59 L781.64,423.84 L781.69,425.09 L781.74,426.34 L781.79,427.58 L781.85,428.83 L781.90,430.08 L781.95,431.33 L782.01,432.58 L782.06,433.83 L782.12,435.08 L782.18,436.33 L782.23,437.58 L782.29,438.82 L782.35,440.07 L782.41,441.32 L782.47,442.57 L782.54,443.82 L782.60,445.07 L782.66,446.31 L782.73,447.56 L782.79,448.81 L782.86,450.06 L782.93,451.31 L782.99,452.56 L783.06,453.80 L783.13,455.05 L783.19,456.30 L783.26,457.55 L783.33,458.80 L783.39,460.05 L783.46,461.29 L783.53,462.54 L783.59,463.79 L783.65,465.04 L783.72,466.29 L783.78,467.54 L783.84,468.78 L783.90,470.03 L783.96,471.28 L784.02,472.53 L784.08,473.78 L784.14,475.03 L784.19,476.28 L784.25,477.52 L784.31,478.77 L784.36,480.02 L784.42,481.27 L784.48,482.52 L784.53,483.77 L784.59,485.02 L784.65,486.27 L784.71,487.51 L784.76,488.76 L784.82,490.01 L784.88,491.26 L784.94,492.51 L785.00,493.76 L785.07,495.01 L785.13,496.25 L785.20,497.50 L785.27,498.75 L785.34,500.00 L785.41,501.25 L785.49,502.49 L785.57,503.74 L785.65,504.99 L785.73,506.24 L785.81,507.48 L785.90,508.73 L785.99,509.98 L786.08,511.22 L786.17,512.47 L786.26,513.72 L786.36,514.96 L786.46,516.21 L786.55,517.46 L786.65,518.70 L786.75,519.95 L786.85,521.19 L786.95,522.44 L787.06,523.68 L787.16,524.93 L787.26,526.18 L787.36,527.42 L787.46,528.67 L787.56,529.91 L787.66,531.16 L787.75,532.41 L787.85,533.65 L787.94,534.90 L788.03,536.15 L788.12,537.39 L788.21,538.64 L788.30,539.89 L788.39,541.13 L788.47,542.38 L788.56,543.63 L788.64,544.88 L788.73,546.12 L788.81,547.37 L788.90,548.62 L788.98,549.86 L789.07,551.11 L789.16,552.36 L789.24,553.60 L789.33,554.85 L789.42,556.10 L789.52,557.34 L789.61,558.59 L789.71,559.84 L789.81,561.08 L789.91,562.33 L790.02,563.57 L790.14,564.82 L790.26,566.06 L790.39,567.31 L790.53,568.55 L790.67,569.79 L790.82,571.03 L790.97,572.27 L791.13,573.51 L791.29,574.75 L791.46,575.99 L791.63,577.23 L791.81,578.46 L791.99,579.70 L792.19,580.94 L792.39,582.17 L792.60,583.40 L792.82,584.63 L793.05,585.86 L793.30,587.08 L793.56,588.31 L793.84,589.53 L794.13,590.74 L794.43,591.95 L794.74,593.16 L795.07,594.37 L795.41,595.57 L795.78,596.77 L796.17,597.95 L796.59,599.13 L797.05,600.29 L797.55,601.43 L798.10,602.55 L798.70,603.65 L799.33,604.72 L800.00,605.77 L800.71,606.80 L801.48,607.77 L802.31,608.68 L803.23,609.51 L804.23,610.22 L805.30,610.81 L806.44,611.29 L807.62,611.67 L808.82,611.93 L810.05,612.08 L811.29,612.15 L812.54,612.17 L813.79,612.16 L815.04,612.14 L816.29,612.12 L817.54,612.08 L818.79,612.05 L820.04,612.01 L821.29,611.96 L822.53,611.90 L823.78,611.84 L825.03,611.76 L826.27,611.64 L827.51,611.49 L828.74,611.30 L829.97,611.07 L831.20,610.82 L832.42,610.56 L833.64,610.30 L834.86,610.03 L836.08,609.76 L837.30,609.49 L838.52,609.21 L839.74,608.93 L840.95,608.64 L842.17,608.33 L843.38,608.03 L844.59,607.71 L845.80,607.39 L847.00,607.07 L848.21,606.74 L849.42,606.42 L850.62,606.09 L851.83,605.75 L853.03,605.40 L854.22,605.03 L855.41,604.64 L856.58,604.22 L857.74,603.76 L858.89,603.27 L860.01,602.73 L861.11,602.14 L862.18,601.50 L863.21,600.80 L864.19,600.03 L865.11,599.21 L865.98,598.32 L866.79,597.37 L867.56,596.39 L868.29,595.38 L869.00,594.35 L869.69,593.31 L870.36,592.25 L871.02,591.19 L871.65,590.11 L872.27,589.03 L872.86,587.93 L873.43,586.82 L873.99,585.70 L874.54,584.58 L875.08,583.45 L875.61,582.31 L876.13,581.18 L876.64,580.04 L877.15,578.90 L877.66,577.76 L878.15,576.61 L878.64,575.46 L879.11,574.30 L879.58,573.14 L880.04,571.98 L880.49,570.81 L880.95,569.65 L881.40,568.48 L881.85,567.32 L882.30,566.15 L882.75,564.99 L883.21,563.82 L883.66,562.66 L884.13,561.50 L884.59,560.34 L885.07,559.18 L885.54,558.02 L886.01,556.87 L886.48,555.71 L886.96,554.55 L887.43,553.39 L887.89,552.23 L888.35,551.07 L888.81,549.91 L889.26,548.74 L889.71,547.57 L890.14,546.40 L890.58,545.23 L891.01,544.06 L891.43,542.88 L891.86,541.71 L892.28,540.53 L892.70,539.35 L893.11,538.17 L893.52,536.99 L893.92,535.81 L894.31,534.62 L894.70,533.43 L895.08,532.24 L895.45,531.05 L895.81,529.85 L896.17,528.65 L896.51,527.45 L896.85,526.25 L897.17,525.04 L897.48,523.83 L897.78,522.61 L898.06,521.40 L898.34,520.18 L898.61,518.96 L898.88,517.74 L899.15,516.52 L899.42,515.30 L899.69,514.08 L899.97,512.86 L900.25,511.64 L900.54,510.42 L900.84,509.21 L901.15,508.00 L901.47,506.79 L901.81,505.59 L902.15,504.39 L902.49,503.19 L902.85,501.99 L903.20,500.79 L903.57,499.59 L903.94,498.40 L904.31,497.21 L904.70,496.02 L905.09,494.83 L905.49,493.65 L905.90,492.47 L906.32,491.30 L906.75,490.16 L907.23,488.92 L907.66,487.83" fill="none" stroke="#000000" stroke-width="4.80" stroke-linejoin="round" stroke-linecap="round"/>
<rect x="516.90" y="481.10" width="4.60" height="69.70" fill="#ff0000"/>
<path d="M511.95,549.80 L526.45,549.80 L519.20,563.80 Z" fill="#ff0000"/>
<rect x="829.70" y="481.10" width="4.60" height="69.70" fill="#ff0000"/>
<path d="M824.75,549.80 L839.25,549.80 L832.00,563.80 Z" fill="#ff0000"/>
<rect x="180.70" y="71.40" width="727.30" height="541.20" fill="none" stroke="#2c2c2c" stroke-width="2.50"/>
<path d="M217.06,612.60 V606.80 M253.43,612.60 V606.80 M289.79,612.60 V606.80 M326.16,612.60 V602.60 M362.52,612.60 V606.80 M398.89,612.60 V606.80 M435.25,612.60 V606.80 M471.62,612.60 V602.60 M507.98,612.60 V606.80 M544.35,612.60 V606.80 M580.71,612.60 V606.80 M617.08,612.60 V602.60 M653.44,612.60 V606.80 M689.81,612.60 V606.80 M726.17,612.60 V606.80 M762.54,612.60 V602.60 M798.90,612.60 V606.80 M835.27,612.60 V606.80 M871.63,612.60 V606.80 M180.70,578.77 H186.90 M180.70,544.95 H186.90 M180.70,511.12 H186.90 M180.70,477.30 H191.70 M180.70,443.48 H186.90 M180.70,409.65 H186.90 M180.70,375.82 H186.90 M180.70,342.00 H191.70 M180.70,308.18 H186.90 M180.70,274.35 H186.90 M180.70,240.52 H186.90 M180.70,206.70 H191.70 M180.70,172.88 H186.90 M180.70,139.05 H186.90 M180.70,105.22 H186.90" stroke="#2c2c2c" stroke-width="2.00" fill="none"/>
<text x="168.50" y="626.20" font-family='"Liberation Sans", sans-serif' font-size="45.50" text-anchor="end" fill="#000">0.0</text>
<text x="168.50" y="490.90" font-family='"Liberation Sans", sans-serif' font-size="45.50" text-anchor="end" fill="#000">0.2</text>
<text x="168.50" y="355.60" font-family='"Liberation Sans", sans-serif' font-size="45.50" text-anchor="end" fill="#000">0.4</text>
<text x="168.50" y="220.30" font-family='"Liberation Sans", sans-serif' font-size="45.50" text-anchor="end" fill="#000">0.6</text>
<text x="168.50" y="85.00" font-family='"Liberation Sans", sans-serif' font-size="45.50" text-anchor="end" fill="#000">0.8</text>
<text x="181.20" y="660.10" font-family='"Liberation Sans", sans-serif' font-size="45.50" text-anchor="middle" fill="#000">0</text>
<text x="326.66" y="660.10" font-family='"Liberation Sans", sans-serif' font-size="45.50" text-anchor="middle" fill="#000">2</text>
<text x="472.12" y="660.10" font-family='"Liberation Sans", sans-serif' font-size="45.50" text-anchor="middle" fill="#000">4</text>
<text x="617.58" y="660.10" font-family='"Liberation Sans", sans-serif' font-size="45.50" text-anchor="middle" fill="#000">6</text>
<text x="763.04" y="660.10" font-family='"Liberation Sans", sans-serif' font-size="45.50" text-anchor="middle" fill="#000">8</text>
<text x="908.50" y="660.10" font-family='"Liberation Sans", sans-serif' font-size="45.50" text-anchor="middle" fill="#000">10</text>
<text x="544.35" y="715.70" font-family='"Liberation Serif", serif' font-size="45.60" text-anchor="middle" fill="#000">Frequency (THz)</text>
<text x="0" y="0" transform="translate(69.20,369.90) rotate(-90)" font-family='"Liberation Serif", serif' font-size="46.20" text-anchor="middle" fill="#000">Transmission</text>
<text x="23.20" y="710.20" font-family='"Liberation Serif", serif' font-size="61.00" fill="#000">(a)</text>
<rect x="427.30" y="71.40" width="267.40" height="103.40" fill="#fff" stroke="#4a4a4a" stroke-width="1.60"/>
<line x1="451.20" y1="106.40" x2="516.40" y2="106.40" stroke="#000000" stroke-width="4.80" stroke-linecap="round"/>
<rect x="472.80" y="140.70" width="23.00" height="23.00" fill="none" stroke="#3c3c3c" stroke-width="1.50" stroke-opacity="1.00"/>
<text x="521.60" y="115.60" font-family='"Liberation Serif", serif' font-size="28.00" fill="#000" stroke="#000" stroke-width="0.45">Sim: h<tspan font-size="15.50" dy="8.50" stroke="none" fill="#3a4450">1</tspan><tspan dy="-8.50">=24μm</tspan></text>
<text x="521.60" y="161.40" font-family='"Liberation Serif", serif' font-size="28.00" fill="#000" stroke="#000" stroke-width="0.45">Cal: h<tspan font-size="15.50" dy="8.50" stroke="none" fill="#3a4450">1</tspan><tspan dy="-8.50">=24μm</tspan></text>
<g clip-path="url(#clipb)" fill="none" stroke="#f7892a" stroke-width="1.50" stroke-opacity="0.85">
<rect x="1122.05" y="598.64" width="22.50" height="22.50"/>
<rect x="1129.33" y="598.64" width="22.50" height="22.50"/>
<rect x="1136.60" y="595.26" width="22.50" height="22.50"/>
<rect x="1143.88" y="587.83" width="22.50" height="22.50"/>
<rect x="1151.16" y="576.33" width="22.50" height="22.50"/>
<rect x="1158.43" y="560.77" width="22.50" height="22.50"/>
<rect x="1165.71" y="540.49" width="22.50" height="22.50"/>
<rect x="1172.99" y="515.47" width="22.50" height="22.50"/>
<rect x="1180.27" y="483.68" width="22.50" height="22.50"/>
<rect x="1187.54" y="447.17" width="22.50" height="22.50"/>
<rect x="1194.82" y="405.24" width="22.50" height="22.50"/>
<rect x="1202.10" y="361.28" width="22.50" height="22.50"/>
<rect x="1209.37" y="317.33" width="22.50" height="22.50"/>
<rect x="1216.65" y="277.43" width="22.50" height="22.50"/>
<rect x="1223.93" y="246.32" width="22.50" height="22.50"/>
<rect x="1231.20" y="224.00" width="22.50" height="22.50"/>
<rect x="1238.48" y="214.87" width="22.50" height="22.50"/>
<rect x="1245.76" y="215.89" width="22.50" height="22.50"/>
<rect x="1253.04" y="227.38" width="22.50" height="22.50"/>
<rect x="1260.31" y="249.70" width="22.50" height="22.50"/>
<rect x="1267.59" y="283.51" width="22.50" height="22.50"/>
<rect x="1274.87" y="328.15" width="22.50" height="22.50"/>
<rect x="1282.14" y="386.98" width="22.50" height="22.50"/>
<rect x="1289.42" y="458.66" width="22.50" height="22.50"/>
<rect x="1296.70" y="530.34" width="22.50" height="22.50"/>
<rect x="1303.97" y="577.00" width="22.50" height="22.50"/>
<rect x="1311.25" y="565.51" width="22.50" height="22.50"/>
<rect x="1318.53" y="499.24" width="22.50" height="22.50"/>
<rect x="1325.81" y="412.68" width="22.50" height="22.50"/>
<rect x="1333.08" y="339.30" width="22.50" height="22.50"/>
<rect x="1340.36" y="290.61" width="22.50" height="22.50"/>
<rect x="1347.64" y="266.27" width="22.50" height="22.50"/>
<rect x="1354.91" y="263.90" width="22.50" height="22.50"/>
<rect x="1362.19" y="277.09" width="22.50" height="22.50"/>
<rect x="1369.47" y="303.26" width="22.50" height="22.50"/>
<rect x="1376.74" y="337.61" width="22.50" height="22.50"/>
<rect x="1384.02" y="378.19" width="22.50" height="22.50"/>
<rect x="1391.30" y="419.03" width="22.50" height="22.50"/>
<rect x="1398.58" y="462.04" width="22.50" height="22.50"/>
<rect x="1405.85" y="509.58" width="22.50" height="22.50"/>
<rect x="1413.13" y="562.80" width="22.50" height="22.50"/>
<rect x="1420.41" y="600.00" width="22.50" height="22.50"/>
<rect x="1427.68" y="581.06" width="22.50" height="22.50"/>
<rect x="1434.96" y="577.00" width="22.50" height="22.50"/>
<rect x="1442.24" y="581.06" width="22.50" height="22.50"/>
<rect x="1449.51" y="586.13" width="22.50" height="22.50"/>
<rect x="1456.79" y="593.24" width="22.50" height="22.50"/>
<rect x="1464.07" y="597.29" width="22.50" height="22.50"/>
<rect x="1471.35" y="599.32" width="22.50" height="22.50"/>
<rect x="1478.62" y="599.32" width="22.50" height="22.50"/>
<rect x="1485.90" y="597.97" width="22.50" height="22.50"/>
<rect x="1493.18" y="592.56" width="22.50" height="22.50"/>
<rect x="1500.45" y="581.06" width="22.50" height="22.50"/>
<rect x="1507.73" y="565.51" width="22.50" height="22.50"/>
<rect x="1515.01" y="543.46" width="22.50" height="22.50"/>
<rect x="1522.29" y="515.13" width="22.50" height="22.50"/>
<rect x="1529.56" y="481.86" width="22.50" height="22.50"/>
<rect x="1536.84" y="445.14" width="22.50" height="22.50"/>
<rect x="1544.12" y="410.24" width="22.50" height="22.50"/>
<rect x="1551.39" y="381.57" width="22.50" height="22.50"/>
<rect x="1558.67" y="360.88" width="22.50" height="22.50"/>
<rect x="1565.95" y="350.66" width="22.50" height="22.50"/>
<rect x="1573.22" y="349.92" width="22.50" height="22.50"/>
<rect x="1580.50" y="357.22" width="22.50" height="22.50"/>
<rect x="1587.78" y="370.07" width="22.50" height="22.50"/>
<rect x="1595.06" y="386.98" width="22.50" height="22.50"/>
<rect x="1602.33" y="406.25" width="22.50" height="22.50"/>
<rect x="1609.61" y="429.18" width="22.50" height="22.50"/>
<rect x="1616.89" y="456.36" width="22.50" height="22.50"/>
<rect x="1624.16" y="487.74" width="22.50" height="22.50"/>
<rect x="1631.44" y="523.85" width="22.50" height="22.50"/>
<rect x="1638.72" y="560.23" width="22.50" height="22.50"/>
<rect x="1645.99" y="584.58" width="22.50" height="22.50"/>
<rect x="1653.27" y="577.28" width="22.50" height="22.50"/>
<rect x="1660.55" y="517.22" width="22.50" height="22.50"/>
<rect x="1667.83" y="429.04" width="22.50" height="22.50"/>
<rect x="1675.10" y="359.25" width="22.50" height="22.50"/>
<rect x="1682.38" y="338.97" width="22.50" height="22.50"/>
<rect x="1689.66" y="374.13" width="22.50" height="22.50"/>
<rect x="1696.93" y="449.19" width="22.50" height="22.50"/>
<rect x="1704.21" y="529.46" width="22.50" height="22.50"/>
<rect x="1711.49" y="582.42" width="22.50" height="22.50"/>
<rect x="1718.76" y="599.32" width="22.50" height="22.50"/>
<rect x="1726.04" y="593.24" width="22.50" height="22.50"/>
<rect x="1733.32" y="584.44" width="22.50" height="22.50"/>
<rect x="1740.60" y="577.68" width="22.50" height="22.50"/>
<rect x="1747.87" y="573.62" width="22.50" height="22.50"/>
<rect x="1755.15" y="572.27" width="22.50" height="22.50"/>
<rect x="1762.43" y="572.27" width="22.50" height="22.50"/>
<rect x="1769.70" y="573.62" width="22.50" height="22.50"/>
<rect x="1776.98" y="576.33" width="22.50" height="22.50"/>
<rect x="1784.26" y="579.71" width="22.50" height="22.50"/>
<rect x="1791.53" y="583.77" width="22.50" height="22.50"/>
<rect x="1798.81" y="587.83" width="22.50" height="22.50"/>
<rect x="1806.09" y="591.21" width="22.50" height="22.50"/>
<rect x="1813.37" y="593.91" width="22.50" height="22.50"/>
<rect x="1820.64" y="595.94" width="22.50" height="22.50"/>
<rect x="1827.92" y="597.29" width="22.50" height="22.50"/>
<rect x="1835.20" y="597.29" width="22.50" height="22.50"/>
<rect x="1842.47" y="595.94" width="22.50" height="22.50"/>
<rect x="1849.75" y="593.24" width="22.50" height="22.50"/>
</g>
<path clip-path="url(#clipb)" d="M1134.48,611.54 L1135.80,611.19 L1137.09,610.77 L1138.23,610.33 L1139.37,609.84 L1140.49,609.29 L1141.58,608.69 L1142.63,608.03 L1143.64,607.30 L1144.62,606.52 L1145.56,605.71 L1146.47,604.86 L1147.37,603.99 L1148.26,603.11 L1149.12,602.21 L1149.97,601.29 L1150.80,600.36 L1151.61,599.41 L1152.41,598.44 L1153.19,597.47 L1153.96,596.48 L1154.71,595.49 L1155.46,594.48 L1156.20,593.48 L1156.92,592.46 L1157.64,591.43 L1158.34,590.39 L1159.02,589.35 L1159.70,588.30 L1160.36,587.24 L1161.01,586.17 L1161.65,585.10 L1162.27,584.01 L1162.88,582.93 L1163.48,581.83 L1164.07,580.73 L1164.65,579.62 L1165.22,578.50 L1165.77,577.38 L1166.32,576.26 L1166.86,575.13 L1167.38,574.00 L1167.90,572.86 L1168.41,571.72 L1168.91,570.57 L1169.40,569.42 L1169.88,568.27 L1170.35,567.11 L1170.82,565.95 L1171.27,564.79 L1171.71,563.62 L1172.15,562.45 L1172.59,561.28 L1173.01,560.10 L1173.43,558.92 L1173.85,557.75 L1174.27,556.57 L1174.67,555.38 L1175.07,554.20 L1175.47,553.01 L1175.86,551.83 L1176.24,550.64 L1176.62,549.45 L1177.00,548.25 L1177.37,547.06 L1177.74,545.87 L1178.10,544.67 L1178.47,543.47 L1178.83,542.28 L1179.18,541.08 L1179.54,539.88 L1179.90,538.68 L1180.25,537.49 L1180.60,536.29 L1180.96,535.09 L1181.31,533.89 L1181.66,532.69 L1182.01,531.49 L1182.35,530.29 L1182.69,529.08 L1183.03,527.88 L1183.37,526.68 L1183.70,525.47 L1184.03,524.26 L1184.35,523.06 L1184.68,521.85 L1184.99,520.64 L1185.30,519.43 L1185.61,518.22 L1185.92,517.01 L1186.21,515.79 L1186.51,514.58 L1186.80,513.36 L1187.08,512.14 L1187.36,510.93 L1187.64,509.71 L1187.91,508.49 L1188.18,507.27 L1188.45,506.05 L1188.72,504.83 L1188.98,503.60 L1189.25,502.38 L1189.51,501.16 L1189.77,499.94 L1190.03,498.72 L1190.29,497.49 L1190.55,496.27 L1190.81,495.05 L1191.06,493.82 L1191.31,492.60 L1191.56,491.37 L1191.80,490.15 L1192.05,488.92 L1192.29,487.69 L1192.53,486.47 L1192.78,485.24 L1193.02,484.02 L1193.26,482.79 L1193.50,481.56 L1193.75,480.34 L1193.99,479.11 L1194.24,477.89 L1194.49,476.66 L1194.75,475.44 L1195.00,474.21 L1195.27,472.99 L1195.54,471.77 L1195.81,470.55 L1196.09,469.34 L1196.38,468.12 L1196.67,466.90 L1196.96,465.69 L1197.25,464.47 L1197.54,463.26 L1197.83,462.04 L1198.12,460.82 L1198.40,459.60 L1198.67,458.38 L1198.93,457.16 L1199.19,455.94 L1199.44,454.71 L1199.68,453.49 L1199.92,452.26 L1200.14,451.03 L1200.36,449.80 L1200.56,448.57 L1200.76,447.33 L1200.94,446.10 L1201.12,444.86 L1201.30,443.62 L1201.47,442.38 L1201.63,441.14 L1201.80,439.90 L1201.96,438.67 L1202.11,437.43 L1202.27,436.19 L1202.43,434.95 L1202.59,433.70 L1202.74,432.46 L1202.90,431.22 L1203.06,429.98 L1203.22,428.74 L1203.38,427.51 L1203.54,426.27 L1203.71,425.03 L1203.88,423.79 L1204.05,422.55 L1204.23,421.31 L1204.41,420.08 L1204.58,418.84 L1204.76,417.60 L1204.94,416.37 L1205.13,415.13 L1205.31,413.89 L1205.49,412.66 L1205.67,411.42 L1205.86,410.18 L1206.04,408.95 L1206.23,407.71 L1206.42,406.47 L1206.60,405.24 L1206.79,404.00 L1206.98,402.77 L1207.17,401.53 L1207.36,400.30 L1207.55,399.06 L1207.74,397.82 L1207.93,396.59 L1208.13,395.35 L1208.32,394.12 L1208.51,392.89 L1208.71,391.65 L1208.91,390.42 L1209.10,389.18 L1209.30,387.95 L1209.50,386.71 L1209.70,385.48 L1209.91,384.25 L1210.11,383.01 L1210.31,381.78 L1210.51,380.55 L1210.72,379.31 L1210.92,378.08 L1211.13,376.85 L1211.33,375.61 L1211.54,374.38 L1211.74,373.15 L1211.95,371.91 L1212.15,370.68 L1212.36,369.45 L1212.56,368.22 L1212.77,366.98 L1212.98,365.75 L1213.18,364.52 L1213.39,363.28 L1213.60,362.05 L1213.81,360.82 L1214.01,359.59 L1214.22,358.35 L1214.43,357.12 L1214.64,355.89 L1214.85,354.66 L1215.06,353.42 L1215.26,352.19 L1215.47,350.96 L1215.68,349.73 L1215.89,348.49 L1216.09,347.26 L1216.30,346.03 L1216.50,344.79 L1216.71,343.56 L1216.92,342.33 L1217.12,341.10 L1217.33,339.86 L1217.54,338.63 L1217.74,337.40 L1217.95,336.16 L1218.16,334.93 L1218.36,333.70 L1218.57,332.47 L1218.78,331.23 L1218.99,330.00 L1219.20,328.77 L1219.41,327.54 L1219.62,326.31 L1219.83,325.07 L1220.04,323.84 L1220.25,322.61 L1220.46,321.38 L1220.67,320.14 L1220.88,318.91 L1221.09,317.68 L1221.31,316.45 L1221.52,315.22 L1221.74,313.99 L1221.95,312.75 L1222.18,311.52 L1222.40,310.30 L1222.63,309.07 L1222.86,307.84 L1223.10,306.61 L1223.34,305.38 L1223.58,304.16 L1223.83,302.93 L1224.08,301.71 L1224.34,300.48 L1224.59,299.26 L1224.85,298.04 L1225.11,296.82 L1225.38,295.59 L1225.64,294.37 L1225.91,293.15 L1226.18,291.93 L1226.46,290.71 L1226.74,289.49 L1227.02,288.28 L1227.30,287.06 L1227.58,285.84 L1227.86,284.62 L1228.14,283.40 L1228.43,282.19 L1228.71,280.97 L1229.00,279.75 L1229.29,278.54 L1229.58,277.32 L1229.88,276.11 L1230.19,274.90 L1230.50,273.69 L1230.82,272.48 L1231.16,271.27 L1231.50,270.07 L1231.85,268.87 L1232.22,267.68 L1232.60,266.49 L1232.99,265.30 L1233.38,264.11 L1233.79,262.93 L1234.20,261.75 L1234.63,260.58 L1235.06,259.41 L1235.51,258.24 L1235.97,257.07 L1236.43,255.92 L1236.91,254.76 L1237.40,253.61 L1237.90,252.46 L1238.39,251.32 L1238.90,250.17 L1239.40,249.03 L1239.92,247.89 L1240.46,246.76 L1241.01,245.65 L1241.61,244.55 L1242.26,243.49 L1242.97,242.47 L1243.75,241.51 L1244.60,240.60 L1245.51,239.76 L1246.48,239.02 L1247.73,238.34 L1249.06,238.03 L1250.40,238.16 L1251.67,238.72 L1252.65,239.42 L1253.56,240.25 L1254.41,241.15 L1255.21,242.10 L1255.95,243.10 L1256.63,244.14 L1257.25,245.22 L1257.81,246.33 L1258.34,247.46 L1258.85,248.61 L1259.33,249.76 L1259.80,250.92 L1260.27,252.08 L1260.73,253.24 L1261.19,254.40 L1261.65,255.56 L1262.09,256.73 L1262.53,257.90 L1262.95,259.08 L1263.37,260.26 L1263.78,261.44 L1264.17,262.62 L1264.56,263.81 L1264.94,265.00 L1265.31,266.20 L1265.67,267.39 L1266.03,268.59 L1266.38,269.79 L1266.72,270.99 L1267.05,272.20 L1267.37,273.41 L1267.69,274.62 L1267.99,275.83 L1268.28,277.04 L1268.57,278.26 L1268.86,279.48 L1269.13,280.70 L1269.41,281.92 L1269.68,283.14 L1269.94,284.36 L1270.21,285.58 L1270.47,286.80 L1270.73,288.02 L1270.99,289.25 L1271.24,290.47 L1271.50,291.69 L1271.76,292.92 L1272.01,294.14 L1272.27,295.36 L1272.53,296.59 L1272.79,297.81 L1273.04,299.03 L1273.30,300.26 L1273.55,301.48 L1273.80,302.71 L1274.05,303.93 L1274.30,305.16 L1274.55,306.38 L1274.80,307.61 L1275.04,308.83 L1275.28,310.06 L1275.53,311.28 L1275.77,312.51 L1276.01,313.74 L1276.25,314.96 L1276.49,316.19 L1276.73,317.42 L1276.97,318.65 L1277.20,319.87 L1277.44,321.10 L1277.68,322.33 L1277.91,323.56 L1278.15,324.78 L1278.38,326.01 L1278.62,327.24 L1278.86,328.47 L1279.09,329.69 L1279.33,330.92 L1279.57,332.15 L1279.81,333.37 L1280.05,334.60 L1280.28,335.83 L1280.52,337.06 L1280.76,338.28 L1280.99,339.51 L1281.22,340.74 L1281.46,341.97 L1281.69,343.20 L1281.91,344.42 L1282.14,345.65 L1282.36,346.88 L1282.58,348.11 L1282.80,349.35 L1283.02,350.58 L1283.23,351.81 L1283.44,353.04 L1283.65,354.27 L1283.86,355.51 L1284.06,356.74 L1284.26,357.97 L1284.45,359.21 L1284.65,360.44 L1284.84,361.68 L1285.03,362.91 L1285.22,364.15 L1285.41,365.38 L1285.59,366.62 L1285.78,367.86 L1285.96,369.09 L1286.14,370.33 L1286.32,371.57 L1286.49,372.81 L1286.67,374.04 L1286.84,375.28 L1287.01,376.52 L1287.18,377.76 L1287.35,379.00 L1287.51,380.24 L1287.68,381.47 L1287.84,382.71 L1288.00,383.95 L1288.16,385.19 L1288.32,386.43 L1288.48,387.67 L1288.64,388.91 L1288.79,390.15 L1288.94,391.39 L1289.09,392.64 L1289.24,393.88 L1289.39,395.12 L1289.54,396.36 L1289.68,397.60 L1289.83,398.84 L1289.96,400.08 L1290.10,401.33 L1290.24,402.57 L1290.37,403.81 L1290.50,405.06 L1290.63,406.30 L1290.76,407.54 L1290.89,408.79 L1291.01,410.03 L1291.14,411.27 L1291.26,412.52 L1291.38,413.76 L1291.50,415.01 L1291.62,416.25 L1291.74,417.49 L1291.86,418.74 L1291.98,419.98 L1292.10,421.23 L1292.22,422.47 L1292.34,423.72 L1292.46,424.96 L1292.58,426.20 L1292.70,427.45 L1292.81,428.69 L1292.93,429.94 L1293.05,431.18 L1293.17,432.43 L1293.29,433.67 L1293.41,434.91 L1293.53,436.16 L1293.65,437.40 L1293.77,438.65 L1293.89,439.89 L1294.02,441.13 L1294.14,442.38 L1294.26,443.62 L1294.38,444.87 L1294.51,446.11 L1294.63,447.35 L1294.75,448.60 L1294.87,449.84 L1294.99,451.09 L1295.10,452.33 L1295.22,453.58 L1295.34,454.82 L1295.46,456.07 L1295.57,457.31 L1295.69,458.55 L1295.81,459.80 L1295.92,461.04 L1296.04,462.29 L1296.16,463.53 L1296.28,464.78 L1296.40,466.02 L1296.51,467.27 L1296.63,468.51 L1296.76,469.75 L1296.88,471.00 L1297.00,472.24 L1297.13,473.49 L1297.25,474.73 L1297.38,475.97 L1297.51,477.22 L1297.64,478.46 L1297.78,479.70 L1297.91,480.94 L1298.05,482.19 L1298.20,483.43 L1298.34,484.67 L1298.49,485.91 L1298.65,487.15 L1298.81,488.39 L1298.98,489.63 L1299.15,490.87 L1299.32,492.10 L1299.50,493.34 L1299.68,494.58 L1299.87,495.81 L1300.06,497.05 L1300.25,498.28 L1300.45,499.52 L1300.64,500.75 L1300.84,501.99 L1301.03,503.22 L1301.23,504.46 L1301.42,505.69 L1301.61,506.93 L1301.80,508.16 L1301.98,509.40 L1302.16,510.64 L1302.34,511.88 L1302.51,513.11 L1302.68,514.35 L1302.84,515.59 L1303.01,516.83 L1303.17,518.07 L1303.32,519.31 L1303.48,520.55 L1303.63,521.79 L1303.79,523.03 L1303.94,524.27 L1304.09,525.51 L1304.24,526.75 L1304.39,528.00 L1304.54,529.24 L1304.69,530.48 L1304.84,531.72 L1304.98,532.96 L1305.13,534.20 L1305.28,535.44 L1305.43,536.68 L1305.58,537.92 L1305.74,539.16 L1305.89,540.40 L1306.04,541.65 L1306.20,542.89 L1306.36,544.13 L1306.52,545.37 L1306.68,546.60 L1306.85,547.84 L1307.01,549.08 L1307.18,550.32 L1307.35,551.56 L1307.51,552.80 L1307.68,554.04 L1307.84,555.28 L1308.01,556.52 L1308.17,557.76 L1308.34,558.99 L1308.50,560.23 L1308.67,561.47 L1308.84,562.71 L1309.01,563.95 L1309.18,565.19 L1309.36,566.42 L1309.54,567.66 L1309.72,568.90 L1309.91,570.13 L1310.10,571.37 L1310.30,572.60 L1310.51,573.84 L1310.73,575.07 L1310.96,576.29 L1311.21,577.52 L1311.46,578.74 L1311.73,579.96 L1311.99,581.19 L1312.26,582.41 L1312.54,583.62 L1312.83,584.84 L1313.14,586.04 L1313.49,587.21 L1314.03,588.43 L1314.97,589.30 L1316.14,588.70 L1316.80,587.59 L1317.25,586.47 L1317.64,585.30 L1317.99,584.10 L1318.33,582.90 L1318.64,581.69 L1318.94,580.47 L1319.23,579.26 L1319.49,578.03 L1319.72,576.81 L1319.93,575.58 L1320.12,574.34 L1320.29,573.10 L1320.46,571.86 L1320.61,570.62 L1320.76,569.38 L1320.91,568.14 L1321.05,566.90 L1321.18,565.66 L1321.32,564.41 L1321.45,563.17 L1321.58,561.93 L1321.71,560.68 L1321.84,559.44 L1321.97,558.20 L1322.10,556.95 L1322.23,555.71 L1322.36,554.47 L1322.49,553.23 L1322.63,551.98 L1322.76,550.74 L1322.90,549.50 L1323.04,548.26 L1323.17,547.01 L1323.31,545.77 L1323.44,544.53 L1323.57,543.28 L1323.70,542.04 L1323.83,540.80 L1323.96,539.55 L1324.09,538.31 L1324.22,537.07 L1324.35,535.82 L1324.47,534.58 L1324.60,533.34 L1324.72,532.09 L1324.85,530.85 L1324.97,529.61 L1325.09,528.36 L1325.21,527.12 L1325.34,525.87 L1325.46,524.63 L1325.57,523.38 L1325.69,522.14 L1325.81,520.90 L1325.93,519.65 L1326.05,518.41 L1326.16,517.16 L1326.28,515.92 L1326.39,514.67 L1326.51,513.43 L1326.62,512.18 L1326.73,510.94 L1326.84,509.69 L1326.95,508.45 L1327.06,507.20 L1327.17,505.96 L1327.28,504.71 L1327.38,503.47 L1327.49,502.22 L1327.59,500.98 L1327.70,499.73 L1327.80,498.48 L1327.91,497.24 L1328.01,495.99 L1328.11,494.75 L1328.21,493.50 L1328.32,492.26 L1328.42,491.01 L1328.52,489.76 L1328.62,488.52 L1328.72,487.27 L1328.82,486.03 L1328.93,484.78 L1329.03,483.53 L1329.13,482.29 L1329.23,481.04 L1329.33,479.80 L1329.43,478.55 L1329.53,477.30 L1329.64,476.06 L1329.74,474.81 L1329.84,473.57 L1329.94,472.32 L1330.04,471.08 L1330.15,469.83 L1330.25,468.58 L1330.36,467.34 L1330.46,466.09 L1330.57,464.85 L1330.67,463.60 L1330.78,462.36 L1330.89,461.11 L1331.00,459.87 L1331.10,458.62 L1331.21,457.38 L1331.31,456.13 L1331.42,454.88 L1331.52,453.64 L1331.63,452.39 L1331.73,451.15 L1331.83,449.90 L1331.93,448.66 L1332.03,447.41 L1332.13,446.16 L1332.23,444.92 L1332.32,443.67 L1332.42,442.42 L1332.51,441.18 L1332.60,439.93 L1332.69,438.68 L1332.78,437.44 L1332.87,436.19 L1332.95,434.94 L1333.04,433.70 L1333.12,432.45 L1333.19,431.20 L1333.27,429.95 L1333.34,428.71 L1333.41,427.46 L1333.48,426.21 L1333.55,424.96 L1333.62,423.71 L1333.69,422.47 L1333.76,421.22 L1333.83,419.97 L1333.90,418.72 L1333.96,417.47 L1334.03,416.22 L1334.10,414.98 L1334.17,413.73 L1334.24,412.48 L1334.31,411.23 L1334.38,409.98 L1334.45,408.74 L1334.52,407.49 L1334.59,406.24 L1334.67,404.99 L1334.75,403.75 L1334.83,402.50 L1334.92,401.25 L1335.00,400.00 L1335.09,398.76 L1335.19,397.51 L1335.28,396.26 L1335.37,395.02 L1335.47,393.77 L1335.57,392.52 L1335.66,391.28 L1335.76,390.03 L1335.87,388.79 L1335.97,387.54 L1336.07,386.30 L1336.18,385.05 L1336.28,383.80 L1336.39,382.56 L1336.50,381.31 L1336.61,380.07 L1336.72,378.82 L1336.84,377.58 L1336.95,376.33 L1337.07,375.09 L1337.19,373.85 L1337.31,372.60 L1337.43,371.36 L1337.56,370.11 L1337.68,368.87 L1337.81,367.63 L1337.94,366.38 L1338.07,365.14 L1338.21,363.90 L1338.34,362.65 L1338.48,361.41 L1338.61,360.17 L1338.75,358.93 L1338.90,357.69 L1339.04,356.44 L1339.18,355.20 L1339.33,353.96 L1339.48,352.72 L1339.63,351.48 L1339.78,350.24 L1339.94,349.00 L1340.10,347.76 L1340.26,346.52 L1340.42,345.28 L1340.58,344.04 L1340.75,342.80 L1340.91,341.56 L1341.08,340.32 L1341.26,339.09 L1341.43,337.85 L1341.61,336.61 L1341.79,335.37 L1341.97,334.14 L1342.16,332.90 L1342.35,331.66 L1342.54,330.43 L1342.73,329.19 L1342.92,327.96 L1343.11,326.72 L1343.30,325.49 L1343.50,324.25 L1343.69,323.02 L1343.89,321.78 L1344.08,320.55 L1344.28,319.32 L1344.48,318.08 L1344.69,316.85 L1344.89,315.62 L1345.10,314.38 L1345.31,313.15 L1345.53,311.92 L1345.75,310.69 L1345.98,309.46 L1346.22,308.23 L1346.46,307.01 L1346.72,305.79 L1346.99,304.57 L1347.28,303.35 L1347.59,302.14 L1347.92,300.93 L1348.27,299.74 L1348.65,298.54 L1349.03,297.36 L1349.44,296.17 L1349.86,295.00 L1350.30,293.83 L1350.77,292.67 L1351.28,291.53 L1351.83,290.42 L1352.45,289.34 L1353.16,288.33 L1353.95,287.39 L1354.84,286.53 L1355.81,285.77 L1356.84,285.14 L1358.16,284.63 L1359.52,284.50 L1360.84,284.82 L1362.04,285.53 L1362.95,286.33 L1363.78,287.25 L1364.52,288.23 L1365.18,289.28 L1365.76,290.38 L1366.25,291.52 L1366.68,292.68 L1367.06,293.87 L1367.42,295.07 L1367.77,296.27 L1368.11,297.47 L1368.44,298.68 L1368.77,299.88 L1369.10,301.09 L1369.43,302.30 L1369.74,303.50 L1370.05,304.72 L1370.35,305.93 L1370.65,307.14 L1370.94,308.36 L1371.22,309.58 L1371.50,310.79 L1371.78,312.01 L1372.05,313.23 L1372.33,314.45 L1372.60,315.67 L1372.87,316.89 L1373.13,318.12 L1373.40,319.34 L1373.67,320.56 L1373.93,321.78 L1374.20,323.00 L1374.47,324.22 L1374.74,325.44 L1375.00,326.66 L1375.27,327.88 L1375.54,329.10 L1375.81,330.32 L1376.08,331.55 L1376.35,332.77 L1376.61,333.99 L1376.87,335.21 L1377.14,336.43 L1377.40,337.66 L1377.66,338.88 L1377.92,340.10 L1378.18,341.32 L1378.44,342.55 L1378.69,343.77 L1378.95,344.99 L1379.21,346.22 L1379.47,347.44 L1379.72,348.66 L1379.98,349.89 L1380.24,351.11 L1380.49,352.33 L1380.75,353.56 L1381.01,354.78 L1381.27,356.00 L1381.53,357.22 L1381.79,358.45 L1382.05,359.67 L1382.31,360.89 L1382.57,362.11 L1382.83,363.34 L1383.10,364.56 L1383.36,365.78 L1383.62,367.00 L1383.88,368.22 L1384.15,369.45 L1384.41,370.67 L1384.67,371.89 L1384.94,373.11 L1385.20,374.34 L1385.46,375.56 L1385.72,376.78 L1385.98,378.00 L1386.24,379.22 L1386.50,380.45 L1386.76,381.67 L1387.02,382.89 L1387.28,384.12 L1387.53,385.34 L1387.79,386.56 L1388.05,387.79 L1388.30,389.01 L1388.55,390.23 L1388.81,391.46 L1389.06,392.68 L1389.31,393.91 L1389.56,395.13 L1389.81,396.36 L1390.06,397.58 L1390.31,398.81 L1390.56,400.03 L1390.80,401.26 L1391.05,402.48 L1391.30,403.71 L1391.54,404.93 L1391.79,406.16 L1392.04,407.38 L1392.28,408.61 L1392.53,409.84 L1392.77,411.06 L1393.02,412.29 L1393.26,413.51 L1393.51,414.74 L1393.75,415.96 L1394.00,417.19 L1394.24,418.42 L1394.49,419.64 L1394.73,420.87 L1394.98,422.09 L1395.22,423.32 L1395.47,424.54 L1395.71,425.77 L1395.96,427.00 L1396.20,428.22 L1396.44,429.45 L1396.69,430.67 L1396.93,431.90 L1397.17,433.13 L1397.42,434.35 L1397.66,435.58 L1397.90,436.81 L1398.15,438.03 L1398.39,439.26 L1398.63,440.48 L1398.88,441.71 L1399.12,442.94 L1399.36,444.16 L1399.60,445.39 L1399.85,446.61 L1400.09,447.84 L1400.34,449.07 L1400.58,450.29 L1400.82,451.52 L1401.07,452.74 L1401.31,453.97 L1401.56,455.20 L1401.81,456.42 L1402.05,457.65 L1402.30,458.87 L1402.55,460.10 L1402.80,461.32 L1403.05,462.55 L1403.30,463.77 L1403.55,465.00 L1403.80,466.22 L1404.05,467.44 L1404.30,468.67 L1404.55,469.89 L1404.80,471.12 L1405.05,472.34 L1405.30,473.57 L1405.55,474.79 L1405.80,476.02 L1406.05,477.24 L1406.29,478.47 L1406.54,479.69 L1406.78,480.92 L1407.03,482.15 L1407.27,483.37 L1407.51,484.60 L1407.75,485.83 L1407.99,487.05 L1408.23,488.28 L1408.46,489.51 L1408.70,490.74 L1408.93,491.96 L1409.16,493.19 L1409.40,494.42 L1409.63,495.65 L1409.86,496.88 L1410.09,498.11 L1410.32,499.33 L1410.54,500.56 L1410.77,501.79 L1411.00,503.02 L1411.23,504.25 L1411.45,505.48 L1411.68,506.71 L1411.90,507.94 L1412.13,509.17 L1412.36,510.40 L1412.58,511.63 L1412.81,512.86 L1413.04,514.09 L1413.26,515.32 L1413.49,516.54 L1413.72,517.77 L1413.94,519.00 L1414.17,520.23 L1414.40,521.46 L1414.63,522.69 L1414.86,523.92 L1415.09,525.15 L1415.32,526.38 L1415.55,527.60 L1415.78,528.83 L1416.01,530.06 L1416.24,531.29 L1416.47,532.52 L1416.70,533.75 L1416.93,534.98 L1417.16,536.20 L1417.40,537.43 L1417.63,538.66 L1417.86,539.89 L1418.09,541.12 L1418.32,542.35 L1418.55,543.58 L1418.78,544.80 L1419.01,546.03 L1419.24,547.26 L1419.46,548.49 L1419.69,549.72 L1419.92,550.95 L1420.15,552.18 L1420.38,553.41 L1420.60,554.64 L1420.83,555.87 L1421.05,557.10 L1421.27,558.33 L1421.50,559.56 L1421.71,560.79 L1421.93,562.02 L1422.15,563.25 L1422.36,564.48 L1422.58,565.71 L1422.79,566.94 L1423.00,568.17 L1423.22,569.41 L1423.43,570.64 L1423.64,571.87 L1423.86,573.10 L1424.07,574.33 L1424.29,575.56 L1424.51,576.79 L1424.73,578.02 L1424.95,579.26 L1425.17,580.48 L1425.40,581.71 L1425.63,582.94 L1425.87,584.17 L1426.10,585.40 L1426.35,586.62 L1426.59,587.85 L1426.84,589.07 L1427.09,590.30 L1427.34,591.52 L1427.59,592.75 L1427.84,593.97 L1428.10,595.20 L1428.36,596.42 L1428.62,597.64 L1428.90,598.86 L1429.18,600.08 L1429.48,601.29 L1429.80,602.50 L1430.13,603.70 L1430.49,604.90 L1430.85,606.10 L1431.24,607.28 L1431.65,608.42 L1432.23,609.63 L1433.20,610.49 L1434.36,609.87 L1435.00,608.75 L1435.46,607.63 L1435.87,606.46 L1436.27,605.28 L1436.66,604.09 L1437.03,602.90 L1437.38,601.70 L1437.71,600.50 L1438.02,599.28 L1438.31,598.07 L1438.59,596.85 L1438.87,595.63 L1439.15,594.42 L1439.45,593.20 L1439.76,591.99 L1440.10,590.79 L1440.51,589.62 L1441.00,588.49 L1441.59,587.40 L1442.28,586.38 L1443.06,585.42 L1443.93,584.57 L1445.08,583.75 L1446.36,583.29 L1447.70,583.29 L1449.02,583.72 L1450.07,584.31 L1451.08,585.02 L1452.06,585.79 L1453.01,586.59 L1453.95,587.42 L1454.86,588.27 L1455.75,589.15 L1456.62,590.05 L1457.48,590.95 L1458.34,591.86 L1459.20,592.76 L1460.07,593.66 L1460.94,594.56 L1461.82,595.45 L1462.69,596.35 L1463.56,597.24 L1464.44,598.13 L1465.32,599.02 L1466.21,599.89 L1467.11,600.77 L1468.01,601.63 L1468.92,602.49 L1469.82,603.35 L1470.72,604.22 L1471.63,605.08 L1472.55,605.92 L1473.50,606.74 L1474.47,607.51 L1475.49,608.21 L1476.56,608.85 L1477.67,609.41 L1478.81,609.92 L1479.97,610.37 L1481.15,610.77 L1482.34,611.11 L1483.56,611.37 L1484.79,611.53 L1486.03,611.60 L1487.27,611.60 L1488.52,611.54 L1489.76,611.44 L1491.00,611.31 L1492.24,611.13 L1493.46,610.90 L1494.65,610.59 L1495.79,610.15 L1496.86,609.57 L1497.85,608.85 L1498.76,608.01 L1499.61,607.11 L1500.42,606.16 L1501.20,605.19 L1501.95,604.19 L1502.69,603.19 L1503.41,602.16 L1504.10,601.12 L1504.75,600.06 L1505.37,598.97 L1505.96,597.87 L1506.52,596.76 L1507.07,595.63 L1507.59,594.50 L1508.11,593.36 L1508.61,592.22 L1509.10,591.07 L1509.59,589.92 L1510.06,588.76 L1510.53,587.60 L1510.98,586.43 L1511.42,585.26 L1511.85,584.09 L1512.27,582.91 L1512.68,581.73 L1513.08,580.55 L1513.47,579.36 L1513.86,578.17 L1514.24,576.98 L1514.61,575.79 L1514.98,574.60 L1515.35,573.40 L1515.71,572.20 L1516.06,571.00 L1516.42,569.81 L1516.76,568.60 L1517.11,567.40 L1517.44,566.20 L1517.77,564.99 L1518.10,563.79 L1518.42,562.58 L1518.73,561.37 L1519.05,560.16 L1519.35,558.95 L1519.66,557.73 L1519.96,556.52 L1520.25,555.31 L1520.55,554.09 L1520.84,552.88 L1521.13,551.66 L1521.41,550.44 L1521.70,549.23 L1521.98,548.01 L1522.26,546.79 L1522.54,545.57 L1522.82,544.35 L1523.10,543.13 L1523.37,541.91 L1523.64,540.69 L1523.91,539.47 L1524.17,538.25 L1524.43,537.03 L1524.69,535.81 L1524.95,534.58 L1525.20,533.36 L1525.45,532.13 L1525.70,530.91 L1525.95,529.68 L1526.19,528.46 L1526.44,527.23 L1526.68,526.01 L1526.93,524.78 L1527.17,523.55 L1527.41,522.33 L1527.66,521.10 L1527.90,519.88 L1528.15,518.65 L1528.39,517.42 L1528.64,516.20 L1528.89,514.97 L1529.13,513.75 L1529.38,512.52 L1529.63,511.30 L1529.88,510.07 L1530.13,508.85 L1530.38,507.62 L1530.62,506.40 L1530.87,505.17 L1531.12,503.95 L1531.37,502.72 L1531.62,501.50 L1531.86,500.27 L1532.11,499.05 L1532.35,497.82 L1532.60,496.60 L1532.84,495.37 L1533.09,494.14 L1533.33,492.92 L1533.57,491.69 L1533.81,490.46 L1534.05,489.24 L1534.29,488.01 L1534.53,486.78 L1534.76,485.56 L1535.00,484.33 L1535.23,483.10 L1535.47,481.87 L1535.70,480.64 L1535.93,479.42 L1536.16,478.19 L1536.40,476.96 L1536.63,475.73 L1536.86,474.50 L1537.09,473.27 L1537.32,472.04 L1537.55,470.82 L1537.78,469.59 L1538.01,468.36 L1538.23,467.13 L1538.46,465.90 L1538.69,464.67 L1538.92,463.44 L1539.14,462.21 L1539.37,460.98 L1539.59,459.75 L1539.81,458.52 L1540.03,457.29 L1540.25,456.06 L1540.47,454.83 L1540.68,453.60 L1540.90,452.37 L1541.12,451.14 L1541.34,449.91 L1541.56,448.68 L1541.78,447.45 L1542.01,446.22 L1542.24,444.99 L1542.47,443.76 L1542.71,442.53 L1542.95,441.31 L1543.19,440.08 L1543.44,438.86 L1543.69,437.63 L1543.94,436.41 L1544.20,435.18 L1544.45,433.96 L1544.71,432.74 L1544.98,431.51 L1545.24,430.29 L1545.51,429.07 L1545.78,427.85 L1546.06,426.63 L1546.33,425.41 L1546.61,424.20 L1546.90,422.98 L1547.19,421.76 L1547.48,420.55 L1547.78,419.33 L1548.08,418.12 L1548.38,416.91 L1548.69,415.69 L1549.00,414.48 L1549.31,413.27 L1549.63,412.06 L1549.95,410.86 L1550.27,409.65 L1550.60,408.44 L1550.94,407.24 L1551.28,406.04 L1551.63,404.84 L1551.98,403.64 L1552.34,402.44 L1552.71,401.25 L1553.09,400.06 L1553.48,398.87 L1553.87,397.68 L1554.27,396.50 L1554.67,395.31 L1555.08,394.13 L1555.50,392.96 L1555.94,391.78 L1556.38,390.62 L1556.85,389.46 L1557.33,388.30 L1557.83,387.16 L1558.35,386.02 L1558.89,384.90 L1559.45,383.78 L1560.02,382.67 L1560.61,381.57 L1561.23,380.48 L1561.88,379.42 L1562.57,378.38 L1563.30,377.37 L1564.08,376.39 L1564.90,375.45 L1565.76,374.55 L1566.66,373.70 L1567.62,372.92 L1568.65,372.24 L1569.74,371.68 L1570.89,371.22 L1572.08,370.88 L1573.29,370.65 L1574.50,370.55 L1575.71,370.63 L1576.89,370.89 L1578.04,371.32 L1579.13,371.88 L1580.20,372.52 L1581.23,373.22 L1582.23,373.96 L1583.21,374.74 L1584.14,375.56 L1585.04,376.42 L1585.91,377.32 L1586.76,378.23 L1587.60,379.16 L1588.43,380.09 L1589.25,381.04 L1590.07,381.98 L1590.87,382.94 L1591.66,383.91 L1592.44,384.89 L1593.21,385.87 L1593.97,386.86 L1594.72,387.86 L1595.46,388.87 L1596.19,389.88 L1596.91,390.90 L1597.63,391.93 L1598.33,392.96 L1599.02,394.00 L1599.71,395.05 L1600.39,396.10 L1601.06,397.15 L1601.73,398.21 L1602.39,399.27 L1603.05,400.33 L1603.70,401.40 L1604.34,402.47 L1604.97,403.55 L1605.60,404.63 L1606.23,405.71 L1606.84,406.80 L1607.45,407.89 L1608.05,408.99 L1608.65,410.08 L1609.24,411.19 L1609.82,412.29 L1610.40,413.40 L1610.97,414.52 L1611.53,415.63 L1612.08,416.75 L1612.63,417.87 L1613.18,419.00 L1613.72,420.13 L1614.26,421.25 L1614.80,422.38 L1615.33,423.51 L1615.87,424.64 L1616.40,425.77 L1616.94,426.90 L1617.47,428.03 L1618.00,429.16 L1618.53,430.30 L1619.06,431.43 L1619.57,432.57 L1620.08,433.71 L1620.59,434.85 L1621.08,436.00 L1621.56,437.15 L1622.03,438.31 L1622.49,439.47 L1622.94,440.64 L1623.38,441.81 L1623.81,442.99 L1624.22,444.16 L1624.63,445.35 L1625.03,446.53 L1625.43,447.72 L1625.82,448.90 L1626.20,450.09 L1626.58,451.29 L1626.95,452.48 L1627.32,453.67 L1627.68,454.87 L1628.05,456.06 L1628.40,457.26 L1628.75,458.46 L1629.10,459.66 L1629.44,460.86 L1629.78,462.07 L1630.11,463.27 L1630.44,464.48 L1630.77,465.69 L1631.09,466.89 L1631.41,468.10 L1631.73,469.31 L1632.04,470.52 L1632.35,471.73 L1632.66,472.94 L1632.96,474.16 L1633.26,475.37 L1633.55,476.59 L1633.84,477.80 L1634.12,479.02 L1634.41,480.24 L1634.68,481.46 L1634.96,482.67 L1635.24,483.89 L1635.51,485.11 L1635.78,486.33 L1636.05,487.55 L1636.32,488.77 L1636.59,490.00 L1636.86,491.22 L1637.13,492.44 L1637.39,493.66 L1637.66,494.88 L1637.93,496.10 L1638.20,497.32 L1638.47,498.54 L1638.74,499.76 L1639.01,500.98 L1639.27,502.20 L1639.54,503.43 L1639.80,504.65 L1640.07,505.87 L1640.33,507.09 L1640.60,508.31 L1640.86,509.53 L1641.12,510.76 L1641.38,511.98 L1641.64,513.20 L1641.90,514.43 L1642.16,515.65 L1642.41,516.87 L1642.67,518.10 L1642.92,519.32 L1643.18,520.54 L1643.43,521.77 L1643.68,522.99 L1643.93,524.22 L1644.18,525.44 L1644.42,526.67 L1644.67,527.89 L1644.92,529.12 L1645.16,530.34 L1645.41,531.57 L1645.65,532.80 L1645.89,534.02 L1646.14,535.25 L1646.38,536.47 L1646.62,537.70 L1646.87,538.93 L1647.11,540.15 L1647.36,541.38 L1647.60,542.60 L1647.85,543.83 L1648.09,545.06 L1648.34,546.28 L1648.58,547.51 L1648.82,548.73 L1649.06,549.96 L1649.31,551.19 L1649.55,552.41 L1649.79,553.64 L1650.03,554.87 L1650.27,556.09 L1650.52,557.32 L1650.76,558.54 L1651.00,559.77 L1651.25,561.00 L1651.49,562.22 L1651.74,563.45 L1651.99,564.67 L1652.24,565.90 L1652.50,567.12 L1652.75,568.34 L1653.01,569.57 L1653.26,570.79 L1653.52,572.01 L1653.77,573.24 L1654.01,574.46 L1654.26,575.69 L1654.51,576.92 L1654.75,578.14 L1655.01,579.36 L1655.26,580.59 L1655.53,581.81 L1655.80,583.03 L1656.09,584.25 L1656.40,585.46 L1656.73,586.66 L1657.10,587.85 L1657.49,589.03 L1657.93,590.18 L1658.53,591.43 L1659.37,592.38 L1660.65,592.04 L1661.28,590.99 L1661.77,589.65 L1662.11,588.46 L1662.40,587.25 L1662.67,586.03 L1662.92,584.80 L1663.13,583.57 L1663.32,582.34 L1663.47,581.10 L1663.59,579.85 L1663.70,578.61 L1663.79,577.36 L1663.88,576.12 L1663.96,574.87 L1664.05,573.62 L1664.12,572.37 L1664.20,571.13 L1664.28,569.88 L1664.36,568.63 L1664.43,567.38 L1664.51,566.14 L1664.59,564.89 L1664.68,563.64 L1664.76,562.39 L1664.85,561.15 L1664.95,559.90 L1665.05,558.66 L1665.16,557.41 L1665.27,556.17 L1665.38,554.92 L1665.49,553.67 L1665.60,552.43 L1665.71,551.19 L1665.83,549.94 L1665.95,548.70 L1666.07,547.45 L1666.19,546.21 L1666.31,544.96 L1666.43,543.72 L1666.55,542.48 L1666.68,541.23 L1666.80,539.99 L1666.93,538.74 L1667.06,537.50 L1667.19,536.26 L1667.32,535.02 L1667.45,533.77 L1667.59,532.53 L1667.72,531.29 L1667.86,530.04 L1667.99,528.80 L1668.13,527.56 L1668.27,526.32 L1668.41,525.07 L1668.55,523.83 L1668.69,522.59 L1668.83,521.35 L1668.98,520.11 L1669.12,518.87 L1669.27,517.62 L1669.42,516.38 L1669.57,515.14 L1669.72,513.90 L1669.88,512.66 L1670.03,511.42 L1670.19,510.18 L1670.34,508.94 L1670.50,507.70 L1670.66,506.46 L1670.82,505.22 L1670.98,503.98 L1671.13,502.74 L1671.29,501.50 L1671.45,500.26 L1671.61,499.02 L1671.77,497.78 L1671.93,496.54 L1672.08,495.30 L1672.24,494.06 L1672.40,492.82 L1672.55,491.58 L1672.71,490.34 L1672.86,489.10 L1673.02,487.86 L1673.18,486.62 L1673.33,485.38 L1673.49,484.14 L1673.65,482.90 L1673.81,481.66 L1673.96,480.42 L1674.12,479.18 L1674.28,477.94 L1674.44,476.70 L1674.59,475.46 L1674.75,474.22 L1674.91,472.98 L1675.07,471.74 L1675.22,470.50 L1675.38,469.26 L1675.54,468.02 L1675.70,466.78 L1675.85,465.54 L1676.01,464.30 L1676.17,463.06 L1676.32,461.82 L1676.48,460.58 L1676.63,459.34 L1676.78,458.10 L1676.94,456.86 L1677.09,455.61 L1677.24,454.37 L1677.38,453.13 L1677.53,451.89 L1677.68,450.65 L1677.83,449.41 L1677.97,448.17 L1678.12,446.93 L1678.26,445.68 L1678.41,444.44 L1678.56,443.20 L1678.70,441.96 L1678.85,440.72 L1679.00,439.48 L1679.15,438.24 L1679.30,437.00 L1679.46,435.76 L1679.61,434.52 L1679.77,433.28 L1679.93,432.04 L1680.09,430.80 L1680.26,429.56 L1680.43,428.32 L1680.61,427.08 L1680.78,425.84 L1680.96,424.61 L1681.14,423.37 L1681.33,422.13 L1681.51,420.90 L1681.70,419.66 L1681.88,418.43 L1682.07,417.19 L1682.26,415.95 L1682.46,414.72 L1682.65,413.49 L1682.85,412.25 L1683.06,411.02 L1683.27,409.79 L1683.49,408.56 L1683.71,407.33 L1683.94,406.10 L1684.18,404.87 L1684.44,403.65 L1684.70,402.43 L1684.98,401.21 L1685.27,399.99 L1685.57,398.78 L1685.88,397.57 L1686.19,396.36 L1686.52,395.15 L1686.86,393.95 L1687.23,392.76 L1687.63,391.57 L1688.07,390.41 L1688.57,389.27 L1689.14,388.16 L1689.76,387.09 L1690.46,386.09 L1691.41,385.07 L1692.48,384.45 L1693.76,384.52 L1694.74,385.24 L1695.56,386.36 L1696.15,387.43 L1696.67,388.56 L1697.15,389.71 L1697.59,390.88 L1697.97,392.07 L1698.31,393.27 L1698.62,394.48 L1698.90,395.69 L1699.17,396.92 L1699.42,398.14 L1699.66,399.37 L1699.89,400.60 L1700.11,401.82 L1700.33,403.06 L1700.55,404.29 L1700.77,405.52 L1700.98,406.75 L1701.19,407.98 L1701.40,409.21 L1701.60,410.45 L1701.80,411.68 L1701.99,412.92 L1702.18,414.15 L1702.36,415.39 L1702.54,416.63 L1702.71,417.86 L1702.88,419.10 L1703.04,420.34 L1703.21,421.58 L1703.37,422.82 L1703.52,424.06 L1703.68,425.30 L1703.83,426.54 L1703.98,427.78 L1704.13,429.02 L1704.28,430.27 L1704.43,431.51 L1704.57,432.75 L1704.72,433.99 L1704.86,435.23 L1705.00,436.47 L1705.13,437.72 L1705.27,438.96 L1705.40,440.20 L1705.53,441.45 L1705.66,442.69 L1705.78,443.93 L1705.91,445.18 L1706.03,446.42 L1706.15,447.66 L1706.27,448.91 L1706.39,450.15 L1706.51,451.40 L1706.63,452.64 L1706.75,453.89 L1706.86,455.13 L1706.98,456.37 L1707.10,457.62 L1707.22,458.86 L1707.34,460.11 L1707.46,461.35 L1707.58,462.60 L1707.70,463.84 L1707.82,465.08 L1707.94,466.33 L1708.07,467.57 L1708.19,468.82 L1708.32,470.06 L1708.45,471.30 L1708.57,472.55 L1708.70,473.79 L1708.83,475.03 L1708.95,476.28 L1709.08,477.52 L1709.21,478.76 L1709.34,480.01 L1709.46,481.25 L1709.59,482.49 L1709.72,483.74 L1709.85,484.98 L1709.98,486.22 L1710.11,487.47 L1710.23,488.71 L1710.36,489.95 L1710.49,491.20 L1710.62,492.44 L1710.75,493.69 L1710.87,494.93 L1711.00,496.17 L1711.13,497.42 L1711.25,498.66 L1711.38,499.90 L1711.50,501.15 L1711.63,502.39 L1711.75,503.63 L1711.88,504.88 L1712.00,506.12 L1712.13,507.37 L1712.25,508.61 L1712.38,509.85 L1712.50,511.10 L1712.62,512.34 L1712.75,513.58 L1712.87,514.83 L1712.99,516.07 L1713.12,517.32 L1713.24,518.56 L1713.36,519.80 L1713.49,521.05 L1713.61,522.29 L1713.73,523.54 L1713.86,524.78 L1713.98,526.02 L1714.10,527.27 L1714.23,528.51 L1714.35,529.76 L1714.47,531.00 L1714.60,532.24 L1714.72,533.49 L1714.84,534.73 L1714.96,535.98 L1715.08,537.22 L1715.20,538.46 L1715.32,539.71 L1715.44,540.95 L1715.56,542.20 L1715.68,543.44 L1715.79,544.69 L1715.91,545.93 L1716.03,547.18 L1716.14,548.42 L1716.26,549.66 L1716.38,550.91 L1716.50,552.15 L1716.62,553.40 L1716.74,554.64 L1716.86,555.89 L1716.98,557.13 L1717.11,558.37 L1717.23,559.62 L1717.36,560.86 L1717.49,562.10 L1717.63,563.35 L1717.77,564.59 L1717.91,565.83 L1718.05,567.07 L1718.20,568.31 L1718.35,569.55 L1718.50,570.79 L1718.65,572.04 L1718.81,573.28 L1718.96,574.52 L1719.12,575.76 L1719.27,577.00 L1719.43,578.24 L1719.59,579.48 L1719.75,580.72 L1719.92,581.95 L1720.09,583.19 L1720.26,584.43 L1720.44,585.67 L1720.62,586.91 L1720.81,588.14 L1721.01,589.38 L1721.21,590.61 L1721.43,591.84 L1721.66,593.07 L1721.91,594.29 L1722.18,595.51 L1722.46,596.73 L1722.76,597.94 L1723.07,599.15 L1723.39,600.36 L1723.73,601.56 L1724.09,602.76 L1724.47,603.95 L1724.90,605.12 L1725.39,606.26 L1725.97,607.35 L1726.65,608.37 L1727.44,609.30 L1728.34,610.11 L1729.54,610.82 L1730.83,611.11 L1732.14,610.91 L1733.38,610.29 L1734.34,609.55 L1735.23,608.70 L1736.06,607.78 L1736.83,606.81 L1737.54,605.78 L1738.22,604.74 L1738.87,603.67 L1739.51,602.59 L1740.14,601.52 L1740.77,600.44 L1741.39,599.35 L1742.00,598.26 L1742.61,597.17 L1743.20,596.07 L1743.78,594.96 L1744.36,593.86 L1744.95,592.75 L1745.55,591.66 L1746.17,590.57 L1746.80,589.49 L1747.46,588.43 L1748.15,587.39 L1748.86,586.36 L1749.58,585.34 L1750.32,584.34 L1751.08,583.35 L1751.87,582.38 L1752.70,581.45 L1753.58,580.57 L1754.51,579.75 L1755.50,578.99 L1756.53,578.30 L1757.60,577.65 L1758.69,577.05 L1759.81,576.51 L1760.96,576.02 L1762.12,575.57 L1763.31,575.18 L1764.50,574.82 L1765.71,574.49 L1766.92,574.18 L1768.13,573.89 L1769.35,573.64 L1770.58,573.42 L1771.82,573.25 L1773.06,573.14 L1774.30,573.09 L1775.55,573.11 L1776.79,573.19 L1778.03,573.32 L1779.27,573.51 L1780.49,573.74 L1781.71,574.01 L1782.92,574.31 L1784.13,574.64 L1785.32,575.00 L1786.50,575.41 L1787.65,575.88 L1788.77,576.42 L1789.86,577.03 L1790.92,577.68 L1791.96,578.37 L1792.99,579.08 L1794.00,579.81 L1795.02,580.54 L1796.03,581.27 L1797.05,581.99 L1798.08,582.71 L1799.10,583.43 L1800.11,584.16 L1801.12,584.90 L1802.13,585.64 L1803.13,586.39 L1804.12,587.15 L1805.11,587.91 L1806.09,588.69 L1807.07,589.46 L1808.04,590.25 L1809.01,591.04 L1809.97,591.84 L1810.92,592.65 L1811.87,593.47 L1812.81,594.29 L1813.74,595.12 L1814.67,595.95 L1815.61,596.79 L1816.54,597.62 L1817.47,598.45 L1818.41,599.28 L1819.35,600.10 L1820.28,600.93 L1821.21,601.77 L1822.14,602.60 L1823.07,603.44 L1824.00,604.27 L1824.95,605.08 L1825.93,605.86 L1826.93,606.60 L1827.97,607.29 L1829.03,607.94 L1830.12,608.56 L1831.22,609.15 L1832.34,609.69 L1833.48,610.16 L1834.66,610.51 L1835.86,610.71 L1837.08,610.74 L1838.29,610.60 L1839.48,610.31 L1840.65,609.90 L1841.78,609.38 L1842.87,608.80 L1843.93,608.14 L1844.93,607.42 L1845.87,606.61 L1846.72,605.72 L1847.50,604.76 L1848.22,603.75 L1848.91,602.70 L1849.57,601.64 L1850.23,600.58 L1850.89,599.52 L1851.56,598.47 L1852.25,597.42 L1852.94,596.38 L1853.64,595.35 L1854.34,594.31 L1855.04,593.28 L1855.74,592.24 L1856.44,591.20 L1857.13,590.16 L1857.82,589.12 L1858.50,588.10 L1859.27,586.93 L1859.99,585.84 L1860.14,585.61" fill="none" stroke="#ff7d0a" stroke-width="4.80" stroke-linejoin="round" stroke-linecap="round"/>
<rect x="1432.60" y="470.90" width="4.20" height="69.40" fill="#ff0000"/>
<path d="M1427.45,539.30 L1441.95,539.30 L1434.70,553.30 Z" fill="#ff0000"/>
<rect x="1485.20" y="470.90" width="4.20" height="69.40" fill="#ff0000"/>
<path d="M1480.05,539.30 L1494.55,539.30 L1487.30,553.30 Z" fill="#ff0000"/>
<rect x="1728.50" y="470.90" width="4.20" height="69.40" fill="#ff0000"/>
<path d="M1723.35,539.30 L1737.85,539.30 L1730.60,553.30 Z" fill="#ff0000"/>
<rect x="1833.50" y="470.90" width="4.20" height="69.40" fill="#ff0000"/>
<path d="M1828.35,539.30 L1842.85,539.30 L1835.60,553.30 Z" fill="#ff0000"/>
<rect x="1133.30" y="71.60" width="727.70" height="541.00" fill="none" stroke="#2c2c2c" stroke-width="2.50"/>
<path d="M1169.68,612.60 V606.80 M1206.07,612.60 V606.80 M1242.45,612.60 V606.80 M1278.84,612.60 V602.60 M1315.22,612.60 V606.80 M1351.61,612.60 V606.80 M1387.99,612.60 V606.80 M1424.38,612.60 V602.60 M1460.76,612.60 V606.80 M1497.15,612.60 V606.80 M1533.54,612.60 V606.80 M1569.92,612.60 V602.60 M1606.31,612.60 V606.80 M1642.69,612.60 V606.80 M1679.08,612.60 V606.80 M1715.46,612.60 V602.60 M1751.85,612.60 V606.80 M1788.23,612.60 V606.80 M1824.62,612.60 V606.80 M1133.30,578.79 H1139.50 M1133.30,544.98 H1139.50 M1133.30,511.16 H1139.50 M1133.30,477.35 H1144.30 M1133.30,443.54 H1139.50 M1133.30,409.73 H1139.50 M1133.30,375.91 H1139.50 M1133.30,342.10 H1144.30 M1133.30,308.29 H1139.50 M1133.30,274.48 H1139.50 M1133.30,240.66 H1139.50 M1133.30,206.85 H1144.30 M1133.30,173.04 H1139.50 M1133.30,139.23 H1139.50 M1133.30,105.41 H1139.50" stroke="#2c2c2c" stroke-width="2.00" fill="none"/>
<text x="1121.10" y="626.20" font-family='"Liberation Sans", sans-serif' font-size="45.50" text-anchor="end" fill="#000">0.0</text>
<text x="1121.10" y="490.95" font-family='"Liberation Sans", sans-serif' font-size="45.50" text-anchor="end" fill="#000">0.2</text>
<text x="1121.10" y="355.70" font-family='"Liberation Sans", sans-serif' font-size="45.50" text-anchor="end" fill="#000">0.4</text>
<text x="1121.10" y="220.45" font-family='"Liberation Sans", sans-serif' font-size="45.50" text-anchor="end" fill="#000">0.6</text>
<text x="1121.10" y="85.20" font-family='"Liberation Sans", sans-serif' font-size="45.50" text-anchor="end" fill="#000">0.8</text>
<text x="1133.80" y="660.10" font-family='"Liberation Sans", sans-serif' font-size="45.50" text-anchor="middle" fill="#000">0</text>
<text x="1279.34" y="660.10" font-family='"Liberation Sans", sans-serif' font-size="45.50" text-anchor="middle" fill="#000">2</text>
<text x="1424.88" y="660.10" font-family='"Liberation Sans", sans-serif' font-size="45.50" text-anchor="middle" fill="#000">4</text>
<text x="1570.42" y="660.10" font-family='"Liberation Sans", sans-serif' font-size="45.50" text-anchor="middle" fill="#000">6</text>
<text x="1715.96" y="660.10" font-family='"Liberation Sans", sans-serif' font-size="45.50" text-anchor="middle" fill="#000">8</text>
<text x="1861.50" y="660.10" font-family='"Liberation Sans", sans-serif' font-size="45.50" text-anchor="middle" fill="#000">10</text>
<text x="1497.15" y="715.70" font-family='"Liberation Serif", serif' font-size="45.60" text-anchor="middle" fill="#000">Frequency (THz)</text>
<text x="0" y="0" transform="translate(1021.80,370.10) rotate(-90)" font-family='"Liberation Serif", serif' font-size="46.20" text-anchor="middle" fill="#000">Transmission</text>
<text x="975.80" y="710.20" font-family='"Liberation Serif", serif' font-size="61.00" fill="#000">(b)</text>
<rect x="1379.90" y="71.60" width="267.40" height="103.40" fill="#fff" stroke="#4a4a4a" stroke-width="1.60"/>
<line x1="1403.80" y1="106.60" x2="1469.00" y2="106.60" stroke="#ff7d0a" stroke-width="4.80" stroke-linecap="round"/>
<rect x="1425.40" y="140.90" width="23.00" height="23.00" fill="none" stroke="#f7892a" stroke-width="1.50" stroke-opacity="0.85"/>
<text x="1474.20" y="115.80" font-family='"Liberation Serif", serif' font-size="28.00" fill="#000" stroke="#000" stroke-width="0.45">Sim: h<tspan font-size="15.50" dy="8.50" stroke="none" fill="#3a4450">1</tspan><tspan dy="-8.50">=22μm</tspan></text>
<text x="1474.20" y="161.60" font-family='"Liberation Serif", serif' font-size="28.00" fill="#000" stroke="#000" stroke-width="0.45">Cal: h<tspan font-size="15.50" dy="8.50" stroke="none" fill="#3a4450">1</tspan><tspan dy="-8.50">=22μm</tspan></text>
<g clip-path="url(#clipc)" fill="none" stroke="#4242ee" stroke-width="1.46" stroke-opacity="0.88">
<rect x="164.74" y="1379.67" width="21.91" height="21.91"/>
<rect x="171.83" y="1379.01" width="21.91" height="21.91"/>
<rect x="178.91" y="1375.05" width="21.91" height="21.91"/>
<rect x="186.00" y="1369.32" width="21.91" height="21.91"/>
<rect x="193.09" y="1358.32" width="21.91" height="21.91"/>
<rect x="200.17" y="1343.95" width="21.91" height="21.91"/>
<rect x="207.26" y="1325.97" width="21.91" height="21.91"/>
<rect x="214.34" y="1303.04" width="21.91" height="21.91"/>
<rect x="221.43" y="1274.44" width="21.91" height="21.91"/>
<rect x="228.52" y="1240.12" width="21.91" height="21.91"/>
<rect x="235.60" y="1201.77" width="21.91" height="21.91"/>
<rect x="242.69" y="1158.94" width="21.91" height="21.91"/>
<rect x="249.77" y="1117.43" width="21.91" height="21.91"/>
<rect x="256.86" y="1077.04" width="21.91" height="21.91"/>
<rect x="263.95" y="1043.64" width="21.91" height="21.91"/>
<rect x="271.03" y="1020.18" width="21.91" height="21.91"/>
<rect x="278.12" y="1008.06" width="21.91" height="21.91"/>
<rect x="285.20" y="1008.98" width="21.91" height="21.91"/>
<rect x="292.29" y="1021.37" width="21.91" height="21.91"/>
<rect x="299.38" y="1044.96" width="21.91" height="21.91"/>
<rect x="306.46" y="1080.54" width="21.91" height="21.91"/>
<rect x="313.55" y="1126.66" width="21.91" height="21.91"/>
<rect x="320.63" y="1185.30" width="21.91" height="21.91"/>
<rect x="327.72" y="1253.23" width="21.91" height="21.91"/>
<rect x="334.81" y="1319.44" width="21.91" height="21.91"/>
<rect x="341.89" y="1360.16" width="21.91" height="21.91"/>
<rect x="348.98" y="1351.53" width="21.91" height="21.91"/>
<rect x="356.06" y="1293.42" width="21.91" height="21.91"/>
<rect x="363.15" y="1219.36" width="21.91" height="21.91"/>
<rect x="370.24" y="1155.65" width="21.91" height="21.91"/>
<rect x="377.32" y="1115.79" width="21.91" height="21.91"/>
<rect x="384.41" y="1101.23" width="21.91" height="21.91"/>
<rect x="391.49" y="1108.87" width="21.91" height="21.91"/>
<rect x="398.58" y="1135.22" width="21.91" height="21.91"/>
<rect x="405.67" y="1180.22" width="21.91" height="21.91"/>
<rect x="412.75" y="1237.74" width="21.91" height="21.91"/>
<rect x="419.84" y="1299.28" width="21.91" height="21.91"/>
<rect x="426.92" y="1353.44" width="21.91" height="21.91"/>
<rect x="434.01" y="1381.64" width="21.91" height="21.91"/>
<rect x="441.10" y="1363.85" width="21.91" height="21.91"/>
<rect x="448.18" y="1302.97" width="21.91" height="21.91"/>
<rect x="455.27" y="1229.77" width="21.91" height="21.91"/>
<rect x="462.35" y="1185.30" width="21.91" height="21.91"/>
<rect x="469.44" y="1179.57" width="21.91" height="21.91"/>
<rect x="476.53" y="1199.79" width="21.91" height="21.91"/>
<rect x="483.61" y="1230.76" width="21.91" height="21.91"/>
<rect x="490.70" y="1262.39" width="21.91" height="21.91"/>
<rect x="497.78" y="1292.36" width="21.91" height="21.91"/>
<rect x="504.87" y="1317.07" width="21.91" height="21.91"/>
<rect x="511.96" y="1338.82" width="21.91" height="21.91"/>
<rect x="519.04" y="1354.76" width="21.91" height="21.91"/>
<rect x="526.13" y="1367.54" width="21.91" height="21.91"/>
<rect x="533.21" y="1375.05" width="21.91" height="21.91"/>
<rect x="540.30" y="1377.69" width="21.91" height="21.91"/>
<rect x="547.39" y="1377.69" width="21.91" height="21.91"/>
<rect x="554.47" y="1374.66" width="21.91" height="21.91"/>
<rect x="561.56" y="1361.88" width="21.91" height="21.91"/>
<rect x="568.64" y="1340.13" width="21.91" height="21.91"/>
<rect x="575.73" y="1314.04" width="21.91" height="21.91"/>
<rect x="582.82" y="1284.99" width="21.91" height="21.91"/>
<rect x="589.90" y="1260.87" width="21.91" height="21.91"/>
<rect x="596.99" y="1247.63" width="21.91" height="21.91"/>
<rect x="604.07" y="1244.73" width="21.91" height="21.91"/>
<rect x="611.16" y="1251.19" width="21.91" height="21.91"/>
<rect x="618.25" y="1264.17" width="21.91" height="21.91"/>
<rect x="625.33" y="1279.52" width="21.91" height="21.91"/>
<rect x="632.42" y="1295.99" width="21.91" height="21.91"/>
<rect x="639.50" y="1314.04" width="21.91" height="21.91"/>
<rect x="646.59" y="1329.59" width="21.91" height="21.91"/>
<rect x="653.68" y="1346.06" width="21.91" height="21.91"/>
<rect x="660.76" y="1360.56" width="21.91" height="21.91"/>
<rect x="667.85" y="1372.75" width="21.91" height="21.91"/>
<rect x="674.93" y="1376.37" width="21.91" height="21.91"/>
<rect x="682.02" y="1373.74" width="21.91" height="21.91"/>
<rect x="689.11" y="1369.12" width="21.91" height="21.91"/>
<rect x="696.19" y="1367.81" width="21.91" height="21.91"/>
<rect x="703.28" y="1375.05" width="21.91" height="21.91"/>
<rect x="710.36" y="1377.69" width="21.91" height="21.91"/>
<rect x="717.45" y="1354.43" width="21.91" height="21.91"/>
<rect x="724.54" y="1322.15" width="21.91" height="21.91"/>
<rect x="731.62" y="1288.74" width="21.91" height="21.91"/>
<rect x="738.71" y="1259.29" width="21.91" height="21.91"/>
<rect x="745.79" y="1236.76" width="21.91" height="21.91"/>
<rect x="752.88" y="1218.77" width="21.91" height="21.91"/>
<rect x="759.97" y="1208.23" width="21.91" height="21.91"/>
<rect x="767.05" y="1200.65" width="21.91" height="21.91"/>
<rect x="774.14" y="1198.74" width="21.91" height="21.91"/>
<rect x="781.22" y="1198.28" width="21.91" height="21.91"/>
<rect x="788.31" y="1200.78" width="21.91" height="21.91"/>
<rect x="795.40" y="1205.33" width="21.91" height="21.91"/>
<rect x="802.48" y="1212.58" width="21.91" height="21.91"/>
<rect x="809.57" y="1218.97" width="21.91" height="21.91"/>
<rect x="816.65" y="1228.32" width="21.91" height="21.91"/>
<rect x="823.74" y="1237.35" width="21.91" height="21.91"/>
<rect x="830.83" y="1247.43" width="21.91" height="21.91"/>
<rect x="837.91" y="1256.79" width="21.91" height="21.91"/>
<rect x="845.00" y="1268.97" width="21.91" height="21.91"/>
<rect x="852.08" y="1280.83" width="21.91" height="21.91"/>
<rect x="859.17" y="1295.33" width="21.91" height="21.91"/>
<rect x="866.26" y="1310.48" width="21.91" height="21.91"/>
<rect x="873.34" y="1328.27" width="21.91" height="21.91"/>
</g>
<path clip-path="url(#clipc)" d="M176.50,1391.69 L177.86,1391.65 L179.23,1391.58 L180.44,1391.46 L181.66,1391.27 L182.87,1391.00 L184.07,1390.66 L185.25,1390.25 L186.41,1389.80 L187.54,1389.29 L188.65,1388.72 L189.73,1388.09 L190.77,1387.41 L191.78,1386.68 L192.77,1385.91 L193.74,1385.13 L194.70,1384.33 L195.65,1383.51 L196.58,1382.68 L197.49,1381.83 L198.38,1380.95 L199.24,1380.05 L200.07,1379.12 L200.87,1378.16 L201.64,1377.17 L202.37,1376.16 L203.06,1375.13 L203.74,1374.07 L204.39,1373.01 L205.02,1371.93 L205.65,1370.85 L206.26,1369.76 L206.86,1368.66 L207.45,1367.56 L208.03,1366.45 L208.59,1365.34 L209.14,1364.22 L209.68,1363.09 L210.21,1361.95 L210.72,1360.81 L211.21,1359.67 L211.70,1358.51 L212.17,1357.36 L212.63,1356.19 L213.08,1355.03 L213.52,1353.86 L213.95,1352.69 L214.38,1351.51 L214.79,1350.33 L215.20,1349.15 L215.60,1347.97 L216.00,1346.78 L216.38,1345.59 L216.77,1344.40 L217.15,1343.21 L217.53,1342.02 L217.90,1340.83 L218.28,1339.64 L218.66,1338.44 L219.03,1337.25 L219.40,1336.06 L219.77,1334.86 L220.14,1333.67 L220.51,1332.47 L220.87,1331.28 L221.24,1330.08 L221.60,1328.89 L221.96,1327.69 L222.32,1326.49 L222.69,1325.30 L223.05,1324.10 L223.41,1322.90 L223.77,1321.71 L224.12,1320.51 L224.48,1319.31 L224.84,1318.11 L225.19,1316.91 L225.55,1315.72 L225.91,1314.52 L226.27,1313.32 L226.63,1312.13 L226.99,1310.93 L227.35,1309.73 L227.71,1308.54 L228.06,1307.34 L228.41,1306.13 L228.74,1304.93 L229.07,1303.72 L229.38,1302.51 L229.68,1301.30 L229.97,1300.09 L230.26,1298.87 L230.53,1297.65 L230.80,1296.43 L231.06,1295.21 L231.32,1293.98 L231.58,1292.76 L231.84,1291.54 L232.09,1290.31 L232.35,1289.09 L232.61,1287.87 L232.87,1286.64 L233.13,1285.42 L233.39,1284.20 L233.65,1282.98 L233.91,1281.75 L234.17,1280.53 L234.43,1279.31 L234.69,1278.09 L234.95,1276.86 L235.21,1275.64 L235.46,1274.42 L235.72,1273.19 L235.97,1271.97 L236.23,1270.74 L236.48,1269.52 L236.73,1268.30 L236.98,1267.07 L237.23,1265.85 L237.47,1264.62 L237.72,1263.39 L237.96,1262.17 L238.20,1260.94 L238.43,1259.71 L238.67,1258.49 L238.90,1257.26 L239.14,1256.03 L239.37,1254.80 L239.60,1253.57 L239.83,1252.34 L240.06,1251.12 L240.29,1249.89 L240.52,1248.66 L240.75,1247.43 L240.98,1246.20 L241.22,1244.97 L241.45,1243.75 L241.69,1242.52 L241.93,1241.29 L242.17,1240.07 L242.42,1238.84 L242.66,1237.61 L242.90,1236.39 L243.15,1235.16 L243.39,1233.94 L243.63,1232.71 L243.88,1231.48 L244.12,1230.26 L244.36,1229.03 L244.60,1227.80 L244.83,1226.58 L245.07,1225.35 L245.30,1224.12 L245.53,1222.89 L245.76,1221.66 L245.98,1220.43 L246.20,1219.20 L246.43,1217.97 L246.65,1216.74 L246.87,1215.51 L247.08,1214.28 L247.30,1213.05 L247.52,1211.82 L247.73,1210.59 L247.95,1209.36 L248.16,1208.12 L248.37,1206.89 L248.58,1205.66 L248.80,1204.43 L249.01,1203.20 L249.22,1201.96 L249.43,1200.73 L249.64,1199.50 L249.85,1198.27 L250.06,1197.04 L250.27,1195.80 L250.48,1194.57 L250.69,1193.34 L250.90,1192.11 L251.11,1190.87 L251.32,1189.64 L251.52,1188.41 L251.73,1187.18 L251.93,1185.94 L252.13,1184.71 L252.33,1183.47 L252.53,1182.24 L252.73,1181.01 L252.93,1179.77 L253.13,1178.54 L253.32,1177.30 L253.52,1176.07 L253.71,1174.83 L253.90,1173.60 L254.09,1172.36 L254.28,1171.13 L254.47,1169.89 L254.66,1168.66 L254.84,1167.42 L255.03,1166.18 L255.21,1164.95 L255.40,1163.71 L255.58,1162.47 L255.76,1161.24 L255.94,1160.00 L256.13,1158.76 L256.31,1157.53 L256.49,1156.29 L256.67,1155.05 L256.85,1153.82 L257.03,1152.58 L257.21,1151.34 L257.39,1150.11 L257.57,1148.87 L257.74,1147.63 L257.92,1146.39 L258.09,1145.16 L258.27,1143.92 L258.44,1142.68 L258.62,1141.44 L258.79,1140.20 L258.96,1138.97 L259.14,1137.73 L259.31,1136.49 L259.48,1135.25 L259.66,1134.02 L259.83,1132.78 L260.00,1131.54 L260.18,1130.30 L260.35,1129.06 L260.52,1127.83 L260.70,1126.59 L260.87,1125.35 L261.04,1124.11 L261.21,1122.87 L261.38,1121.63 L261.54,1120.40 L261.71,1119.16 L261.88,1117.92 L262.05,1116.68 L262.22,1115.44 L262.39,1114.20 L262.57,1112.97 L262.74,1111.73 L262.92,1110.49 L263.11,1109.25 L263.29,1108.02 L263.48,1106.78 L263.68,1105.55 L263.88,1104.31 L264.08,1103.08 L264.29,1101.85 L264.50,1100.62 L264.71,1099.38 L264.93,1098.15 L265.15,1096.92 L265.38,1095.69 L265.61,1094.47 L265.84,1093.24 L266.07,1092.01 L266.31,1090.78 L266.55,1089.55 L266.79,1088.33 L267.04,1087.10 L267.29,1085.88 L267.54,1084.65 L267.80,1083.43 L268.06,1082.21 L268.33,1080.99 L268.59,1079.77 L268.87,1078.55 L269.14,1077.33 L269.43,1076.11 L269.71,1074.89 L270.00,1073.68 L270.29,1072.46 L270.59,1071.25 L270.89,1070.03 L271.20,1068.82 L271.51,1067.61 L271.83,1066.40 L272.15,1065.20 L272.48,1063.99 L272.82,1062.79 L273.16,1061.58 L273.51,1060.38 L273.86,1059.18 L274.22,1057.99 L274.59,1056.79 L274.96,1055.60 L275.35,1054.41 L275.74,1053.22 L276.14,1052.04 L276.55,1050.86 L276.96,1049.68 L277.39,1048.51 L277.83,1047.34 L278.28,1046.17 L278.75,1045.01 L279.23,1043.86 L279.72,1042.71 L280.22,1041.56 L280.74,1040.43 L281.29,1039.30 L281.87,1038.21 L282.52,1037.15 L283.24,1036.13 L284.03,1035.18 L284.90,1034.30 L285.84,1033.53 L286.87,1032.89 L287.98,1032.44 L289.39,1032.16 L290.79,1032.20 L292.13,1032.62 L293.35,1033.36 L294.27,1034.15 L295.12,1035.04 L295.90,1036.01 L296.61,1037.03 L297.27,1038.09 L297.90,1039.17 L298.49,1040.27 L299.05,1041.38 L299.60,1042.51 L300.12,1043.64 L300.61,1044.79 L301.08,1045.95 L301.54,1047.11 L301.98,1048.28 L302.41,1049.45 L302.83,1050.63 L303.24,1051.81 L303.63,1053.00 L304.01,1054.19 L304.37,1055.38 L304.73,1056.58 L305.08,1057.78 L305.41,1058.99 L305.75,1060.19 L306.07,1061.40 L306.38,1062.61 L306.69,1063.82 L306.99,1065.03 L307.27,1066.25 L307.55,1067.47 L307.82,1068.69 L308.08,1069.91 L308.35,1071.13 L308.60,1072.36 L308.86,1073.58 L309.12,1074.80 L309.38,1076.03 L309.65,1077.25 L309.92,1078.47 L310.18,1079.69 L310.45,1080.91 L310.72,1082.13 L310.99,1083.35 L311.26,1084.57 L311.53,1085.79 L311.80,1087.01 L312.07,1088.23 L312.33,1089.46 L312.60,1090.68 L312.86,1091.90 L313.12,1093.12 L313.38,1094.35 L313.63,1095.57 L313.89,1096.79 L314.14,1098.02 L314.40,1099.24 L314.65,1100.46 L314.90,1101.69 L315.16,1102.91 L315.42,1104.13 L315.68,1105.36 L315.95,1106.58 L316.21,1107.80 L316.49,1109.02 L316.76,1110.24 L317.04,1111.46 L317.32,1112.68 L317.60,1113.89 L317.87,1115.11 L318.14,1116.33 L318.41,1117.56 L318.67,1118.78 L318.94,1120.00 L319.20,1121.22 L319.47,1122.44 L319.73,1123.66 L319.97,1124.89 L320.21,1126.12 L320.42,1127.35 L320.63,1128.58 L320.81,1129.82 L320.98,1131.06 L321.14,1132.30 L321.27,1133.54 L321.40,1134.78 L321.52,1136.03 L321.62,1137.27 L321.73,1138.52 L321.83,1139.76 L321.93,1141.01 L322.03,1142.25 L322.12,1143.50 L322.22,1144.75 L322.32,1145.99 L322.42,1147.24 L322.52,1148.49 L322.62,1149.73 L322.72,1150.98 L322.82,1152.22 L322.92,1153.47 L323.02,1154.72 L323.12,1155.96 L323.21,1157.21 L323.31,1158.45 L323.41,1159.70 L323.51,1160.95 L323.61,1162.19 L323.71,1163.44 L323.81,1164.68 L323.92,1165.93 L324.03,1167.17 L324.15,1168.42 L324.27,1169.66 L324.40,1170.91 L324.53,1172.15 L324.67,1173.39 L324.81,1174.63 L324.96,1175.87 L325.11,1177.12 L325.26,1178.36 L325.41,1179.60 L325.57,1180.84 L325.72,1182.08 L325.88,1183.32 L326.03,1184.56 L326.18,1185.80 L326.32,1187.04 L326.46,1188.28 L326.59,1189.53 L326.73,1190.77 L326.85,1192.01 L326.98,1193.26 L327.10,1194.50 L327.22,1195.74 L327.35,1196.99 L327.47,1198.23 L327.59,1199.48 L327.71,1200.72 L327.84,1201.96 L327.96,1203.21 L328.09,1204.45 L328.23,1205.69 L328.37,1206.94 L328.52,1208.18 L328.68,1209.42 L328.85,1210.66 L329.02,1211.89 L329.21,1213.13 L329.40,1214.36 L329.60,1215.60 L329.81,1216.83 L330.02,1218.06 L330.22,1219.30 L330.42,1220.53 L330.62,1221.76 L330.81,1223.00 L330.98,1224.24 L331.15,1225.48 L331.31,1226.72 L331.46,1227.96 L331.60,1229.20 L331.73,1230.44 L331.85,1231.69 L331.95,1232.93 L332.05,1234.18 L332.15,1235.42 L332.24,1236.67 L332.32,1237.92 L332.41,1239.16 L332.49,1240.41 L332.57,1241.66 L332.66,1242.91 L332.74,1244.15 L332.82,1245.40 L332.91,1246.65 L333.00,1247.89 L333.10,1249.14 L333.20,1250.39 L333.31,1251.63 L333.43,1252.88 L333.55,1254.12 L333.67,1255.36 L333.80,1256.61 L333.93,1257.85 L334.06,1259.09 L334.19,1260.34 L334.33,1261.58 L334.48,1262.82 L334.62,1264.06 L334.77,1265.30 L334.92,1266.54 L335.07,1267.78 L335.23,1269.02 L335.39,1270.26 L335.55,1271.50 L335.71,1272.74 L335.87,1273.98 L336.04,1275.22 L336.20,1276.46 L336.36,1277.70 L336.53,1278.94 L336.69,1280.18 L336.85,1281.42 L337.01,1282.66 L337.17,1283.90 L337.32,1285.14 L337.47,1286.38 L337.62,1287.62 L337.77,1288.86 L337.92,1290.10 L338.07,1291.34 L338.21,1292.59 L338.36,1293.83 L338.50,1295.07 L338.65,1296.31 L338.79,1297.55 L338.93,1298.79 L339.08,1300.04 L339.22,1301.28 L339.36,1302.52 L339.51,1303.76 L339.65,1305.00 L339.80,1306.24 L339.94,1307.49 L340.09,1308.73 L340.23,1309.97 L340.38,1311.21 L340.53,1312.45 L340.68,1313.69 L340.83,1314.93 L340.98,1316.17 L341.14,1317.41 L341.30,1318.65 L341.45,1319.89 L341.62,1321.13 L341.78,1322.37 L341.94,1323.61 L342.11,1324.85 L342.27,1326.09 L342.44,1327.33 L342.61,1328.57 L342.77,1329.81 L342.94,1331.05 L343.10,1332.28 L343.27,1333.52 L343.44,1334.76 L343.61,1336.00 L343.78,1337.24 L343.96,1338.48 L344.14,1339.71 L344.32,1340.95 L344.50,1342.19 L344.69,1343.42 L344.88,1344.66 L345.09,1345.89 L345.29,1347.12 L345.51,1348.35 L345.74,1349.58 L345.99,1350.81 L346.24,1352.03 L346.50,1353.25 L346.76,1354.48 L347.03,1355.70 L347.29,1356.92 L347.56,1358.14 L347.82,1359.36 L348.09,1360.58 L348.37,1361.80 L348.65,1363.02 L348.94,1364.24 L349.25,1365.45 L349.57,1366.66 L349.91,1367.86 L350.29,1369.04 L350.72,1370.18 L351.35,1371.37 L352.24,1372.18 L353.39,1371.73 L353.97,1370.66 L354.42,1369.30 L354.72,1368.10 L354.99,1366.88 L355.24,1365.66 L355.47,1364.43 L355.70,1363.20 L355.92,1361.97 L356.14,1360.74 L356.35,1359.51 L356.57,1358.28 L356.78,1357.05 L357.00,1355.82 L357.21,1354.58 L357.43,1353.35 L357.66,1352.12 L357.88,1350.89 L358.10,1349.66 L358.32,1348.43 L358.53,1347.20 L358.73,1345.97 L358.93,1344.73 L359.13,1343.50 L359.32,1342.26 L359.51,1341.03 L359.69,1339.79 L359.88,1338.56 L360.06,1337.32 L360.24,1336.08 L360.41,1334.84 L360.59,1333.61 L360.76,1332.37 L360.93,1331.13 L361.10,1329.89 L361.27,1328.65 L361.44,1327.42 L361.61,1326.18 L361.78,1324.94 L361.94,1323.70 L362.11,1322.46 L362.28,1321.22 L362.44,1319.98 L362.60,1318.74 L362.76,1317.50 L362.92,1316.26 L363.08,1315.02 L363.23,1313.78 L363.39,1312.54 L363.54,1311.30 L363.69,1310.06 L363.84,1308.82 L363.99,1307.58 L364.14,1306.34 L364.29,1305.10 L364.43,1303.85 L364.58,1302.61 L364.72,1301.37 L364.87,1300.13 L365.01,1298.89 L365.15,1297.65 L365.29,1296.40 L365.43,1295.16 L365.57,1293.92 L365.71,1292.68 L365.85,1291.44 L365.99,1290.19 L366.13,1288.95 L366.27,1287.71 L366.40,1286.47 L366.54,1285.22 L366.67,1283.98 L366.81,1282.74 L366.94,1281.50 L367.07,1280.25 L367.21,1279.01 L367.34,1277.77 L367.47,1276.52 L367.60,1275.28 L367.73,1274.04 L367.85,1272.79 L367.98,1271.55 L368.11,1270.31 L368.23,1269.06 L368.36,1267.82 L368.48,1266.57 L368.60,1265.33 L368.73,1264.09 L368.85,1262.84 L368.97,1261.60 L369.09,1260.35 L369.20,1259.11 L369.32,1257.87 L369.44,1256.62 L369.55,1255.38 L369.67,1254.13 L369.78,1252.89 L369.89,1251.64 L370.00,1250.40 L370.11,1249.15 L370.22,1247.91 L370.33,1246.66 L370.43,1245.41 L370.53,1244.17 L370.64,1242.92 L370.74,1241.68 L370.84,1240.43 L370.93,1239.18 L371.03,1237.94 L371.13,1236.69 L371.23,1235.45 L371.32,1234.20 L371.42,1232.95 L371.52,1231.71 L371.61,1230.46 L371.71,1229.21 L371.80,1227.97 L371.90,1226.72 L372.00,1225.48 L372.09,1224.23 L372.19,1222.98 L372.29,1221.74 L372.39,1220.49 L372.49,1219.25 L372.59,1218.00 L372.69,1216.75 L372.79,1215.51 L372.90,1214.26 L373.00,1213.02 L373.10,1211.77 L373.21,1210.52 L373.31,1209.28 L373.42,1208.03 L373.52,1206.79 L373.62,1205.54 L373.73,1204.30 L373.83,1203.05 L373.93,1201.80 L374.03,1200.56 L374.14,1199.31 L374.24,1198.07 L374.35,1196.82 L374.45,1195.58 L374.56,1194.33 L374.66,1193.09 L374.77,1191.84 L374.88,1190.59 L374.99,1189.35 L375.10,1188.10 L375.21,1186.86 L375.33,1185.62 L375.45,1184.37 L375.57,1183.13 L375.69,1181.88 L375.82,1180.64 L375.95,1179.40 L376.08,1178.15 L376.22,1176.91 L376.37,1175.67 L376.52,1174.43 L376.67,1173.19 L376.83,1171.95 L376.98,1170.71 L377.15,1169.47 L377.31,1168.23 L377.48,1166.99 L377.65,1165.75 L377.83,1164.52 L378.01,1163.28 L378.19,1162.04 L378.38,1160.81 L378.57,1159.57 L378.76,1158.34 L378.96,1157.10 L379.16,1155.87 L379.36,1154.63 L379.57,1153.40 L379.78,1152.17 L380.00,1150.94 L380.22,1149.71 L380.44,1148.48 L380.67,1147.25 L380.90,1146.02 L381.12,1144.79 L381.36,1143.56 L381.59,1142.33 L381.83,1141.11 L382.07,1139.88 L382.32,1138.66 L382.57,1137.43 L382.83,1136.21 L383.09,1134.99 L383.37,1133.77 L383.65,1132.55 L383.95,1131.34 L384.27,1130.13 L384.60,1128.92 L384.95,1127.73 L385.32,1126.53 L385.71,1125.34 L386.10,1124.16 L386.52,1122.98 L386.96,1121.81 L387.44,1120.67 L388.01,1119.57 L388.67,1118.55 L389.47,1117.64 L390.60,1116.75 L391.86,1116.14 L393.20,1115.93 L394.50,1116.19 L395.70,1116.88 L396.76,1117.86 L397.53,1118.81 L398.21,1119.84 L398.80,1120.93 L399.31,1122.06 L399.77,1123.22 L400.19,1124.40 L400.58,1125.58 L400.97,1126.77 L401.34,1127.96 L401.71,1129.16 L402.08,1130.35 L402.44,1131.55 L402.80,1132.75 L403.15,1133.95 L403.49,1135.15 L403.82,1136.35 L404.14,1137.56 L404.46,1138.77 L404.76,1139.98 L405.07,1141.20 L405.36,1142.41 L405.65,1143.63 L405.94,1144.84 L406.22,1146.06 L406.50,1147.28 L406.77,1148.50 L407.03,1149.72 L407.30,1150.94 L407.56,1152.17 L407.81,1153.39 L408.06,1154.62 L408.29,1155.84 L408.53,1157.07 L408.75,1158.30 L408.97,1159.53 L409.19,1160.76 L409.40,1161.99 L409.60,1163.23 L409.81,1164.46 L410.01,1165.69 L410.21,1166.93 L410.41,1168.16 L410.61,1169.40 L410.81,1170.63 L411.00,1171.86 L411.20,1173.10 L411.40,1174.33 L411.60,1175.57 L411.80,1176.80 L412.00,1178.03 L412.21,1179.27 L412.42,1180.50 L412.63,1181.73 L412.84,1182.96 L413.06,1184.19 L413.28,1185.42 L413.50,1186.65 L413.72,1187.89 L413.94,1189.12 L414.16,1190.35 L414.38,1191.58 L414.60,1192.81 L414.82,1194.04 L415.03,1195.27 L415.24,1196.50 L415.45,1197.73 L415.65,1198.97 L415.86,1200.20 L416.05,1201.44 L416.24,1202.67 L416.43,1203.91 L416.61,1205.14 L416.79,1206.38 L416.97,1207.62 L417.14,1208.86 L417.31,1210.09 L417.48,1211.33 L417.65,1212.57 L417.81,1213.81 L417.97,1215.05 L418.14,1216.29 L418.30,1217.53 L418.46,1218.77 L418.62,1220.01 L418.78,1221.25 L418.94,1222.49 L419.10,1223.73 L419.26,1224.97 L419.42,1226.21 L419.58,1227.45 L419.74,1228.69 L419.90,1229.93 L420.05,1231.17 L420.21,1232.41 L420.36,1233.65 L420.52,1234.89 L420.67,1236.13 L420.83,1237.37 L420.98,1238.61 L421.14,1239.85 L421.29,1241.09 L421.44,1242.33 L421.60,1243.57 L421.75,1244.81 L421.91,1246.05 L422.06,1247.29 L422.22,1248.53 L422.37,1249.77 L422.53,1251.01 L422.69,1252.25 L422.84,1253.49 L423.00,1254.73 L423.16,1255.97 L423.32,1257.21 L423.48,1258.45 L423.64,1259.69 L423.80,1260.93 L423.96,1262.17 L424.12,1263.41 L424.27,1264.65 L424.43,1265.89 L424.59,1267.13 L424.74,1268.37 L424.90,1269.61 L425.05,1270.85 L425.21,1272.09 L425.36,1273.33 L425.51,1274.57 L425.66,1275.82 L425.80,1277.06 L425.95,1278.30 L426.09,1279.54 L426.23,1280.78 L426.37,1282.03 L426.50,1283.27 L426.64,1284.51 L426.77,1285.75 L426.90,1287.00 L427.03,1288.24 L427.16,1289.48 L427.29,1290.73 L427.42,1291.97 L427.55,1293.21 L427.68,1294.46 L427.80,1295.70 L427.93,1296.94 L428.06,1298.19 L428.19,1299.43 L428.32,1300.67 L428.45,1301.92 L428.58,1303.16 L428.71,1304.40 L428.84,1305.65 L428.98,1306.89 L429.11,1308.13 L429.25,1309.37 L429.39,1310.62 L429.54,1311.86 L429.68,1313.10 L429.84,1314.34 L429.99,1315.58 L430.15,1316.82 L430.31,1318.06 L430.48,1319.30 L430.65,1320.54 L430.83,1321.77 L431.01,1323.01 L431.19,1324.25 L431.38,1325.48 L431.57,1326.72 L431.76,1327.95 L431.95,1329.19 L432.15,1330.42 L432.35,1331.66 L432.55,1332.89 L432.76,1334.12 L432.96,1335.36 L433.17,1336.59 L433.39,1337.82 L433.60,1339.05 L433.81,1340.28 L434.03,1341.51 L434.24,1342.75 L434.46,1343.98 L434.67,1345.21 L434.89,1346.44 L435.10,1347.67 L435.32,1348.90 L435.53,1350.13 L435.75,1351.37 L435.96,1352.60 L436.18,1353.83 L436.40,1355.06 L436.61,1356.29 L436.84,1357.52 L437.06,1358.75 L437.28,1359.98 L437.51,1361.21 L437.74,1362.44 L437.98,1363.67 L438.22,1364.89 L438.46,1366.12 L438.71,1367.34 L438.97,1368.56 L439.24,1369.79 L439.51,1371.01 L439.78,1372.23 L440.06,1373.45 L440.33,1374.66 L440.61,1375.88 L440.89,1377.10 L441.18,1378.32 L441.47,1379.53 L441.77,1380.75 L442.09,1381.96 L442.43,1383.16 L442.79,1384.35 L443.21,1385.52 L443.68,1386.67 L444.24,1387.77 L445.02,1388.96 L445.93,1389.85 L447.19,1390.09 L448.14,1389.28 L448.75,1388.09 L449.16,1386.95 L449.51,1385.76 L449.83,1384.55 L450.14,1383.34 L450.43,1382.12 L450.72,1380.91 L450.99,1379.69 L451.24,1378.46 L451.47,1377.23 L451.68,1376.00 L451.88,1374.77 L452.06,1373.53 L452.24,1372.29 L452.41,1371.06 L452.57,1369.82 L452.73,1368.58 L452.88,1367.34 L453.04,1366.10 L453.19,1364.86 L453.33,1363.61 L453.48,1362.37 L453.63,1361.13 L453.77,1359.89 L453.91,1358.65 L454.06,1357.41 L454.20,1356.16 L454.35,1354.92 L454.49,1353.68 L454.64,1352.44 L454.79,1351.20 L454.94,1349.96 L455.08,1348.72 L455.23,1347.48 L455.38,1346.23 L455.52,1344.99 L455.66,1343.75 L455.81,1342.51 L455.95,1341.27 L456.09,1340.02 L456.23,1338.78 L456.36,1337.54 L456.50,1336.30 L456.63,1335.05 L456.77,1333.81 L456.90,1332.57 L457.03,1331.33 L457.17,1330.08 L457.30,1328.84 L457.43,1327.60 L457.56,1326.35 L457.68,1325.11 L457.81,1323.87 L457.94,1322.62 L458.06,1321.38 L458.19,1320.14 L458.31,1318.89 L458.44,1317.65 L458.56,1316.40 L458.68,1315.16 L458.80,1313.92 L458.92,1312.67 L459.04,1311.43 L459.15,1310.18 L459.27,1308.94 L459.38,1307.69 L459.50,1306.45 L459.61,1305.20 L459.72,1303.96 L459.83,1302.71 L459.94,1301.47 L460.05,1300.22 L460.16,1298.98 L460.27,1297.73 L460.38,1296.49 L460.48,1295.24 L460.59,1294.00 L460.70,1292.75 L460.81,1291.50 L460.91,1290.26 L461.02,1289.01 L461.13,1287.77 L461.24,1286.52 L461.34,1285.28 L461.45,1284.03 L461.56,1282.79 L461.66,1281.54 L461.77,1280.30 L461.88,1279.05 L461.98,1277.81 L462.09,1276.56 L462.19,1275.31 L462.29,1274.07 L462.40,1272.82 L462.50,1271.58 L462.60,1270.33 L462.71,1269.09 L462.81,1267.84 L462.91,1266.59 L463.01,1265.35 L463.11,1264.10 L463.22,1262.86 L463.32,1261.61 L463.42,1260.36 L463.52,1259.12 L463.63,1257.87 L463.73,1256.63 L463.84,1255.38 L463.94,1254.14 L464.05,1252.89 L464.16,1251.65 L464.27,1250.40 L464.38,1249.16 L464.49,1247.91 L464.60,1246.67 L464.72,1245.42 L464.83,1244.18 L464.95,1242.93 L465.06,1241.69 L465.18,1240.44 L465.29,1239.20 L465.41,1237.95 L465.53,1236.71 L465.64,1235.46 L465.76,1234.22 L465.88,1232.97 L466.00,1231.73 L466.12,1230.49 L466.24,1229.24 L466.36,1228.00 L466.49,1226.75 L466.61,1225.51 L466.74,1224.27 L466.87,1223.02 L467.00,1221.78 L467.14,1220.54 L467.28,1219.30 L467.43,1218.06 L467.58,1216.81 L467.73,1215.57 L467.89,1214.33 L468.05,1213.09 L468.21,1211.85 L468.38,1210.62 L468.54,1209.38 L468.71,1208.14 L468.87,1206.90 L469.05,1205.66 L469.22,1204.42 L469.40,1203.19 L469.58,1201.95 L469.77,1200.71 L469.96,1199.48 L470.17,1198.25 L470.39,1197.02 L470.62,1195.79 L470.87,1194.56 L471.15,1193.35 L471.47,1192.14 L471.82,1190.94 L472.19,1189.75 L472.59,1188.57 L473.02,1187.39 L473.49,1186.24 L474.01,1185.12 L474.63,1184.08 L475.55,1183.03 L476.69,1182.33 L477.97,1182.07 L479.21,1182.31 L480.26,1183.05 L481.08,1184.16 L481.64,1185.24 L482.14,1186.38 L482.61,1187.54 L483.06,1188.70 L483.51,1189.87 L483.96,1191.03 L484.40,1192.20 L484.82,1193.38 L485.23,1194.56 L485.62,1195.75 L486.00,1196.94 L486.36,1198.13 L486.72,1199.33 L487.08,1200.53 L487.42,1201.73 L487.77,1202.93 L488.11,1204.14 L488.44,1205.34 L488.78,1206.54 L489.12,1207.75 L489.46,1208.95 L489.80,1210.15 L490.14,1211.35 L490.48,1212.56 L490.82,1213.76 L491.15,1214.97 L491.48,1216.17 L491.81,1217.38 L492.14,1218.58 L492.47,1219.79 L492.79,1221.00 L493.11,1222.21 L493.43,1223.41 L493.75,1224.62 L494.06,1225.83 L494.38,1227.04 L494.69,1228.25 L495.00,1229.46 L495.31,1230.68 L495.62,1231.89 L495.92,1233.10 L496.23,1234.31 L496.53,1235.52 L496.83,1236.74 L497.13,1237.95 L497.43,1239.16 L497.72,1240.38 L498.02,1241.59 L498.31,1242.81 L498.60,1244.02 L498.89,1245.24 L499.18,1246.46 L499.47,1247.67 L499.75,1248.89 L500.04,1250.11 L500.33,1251.32 L500.61,1252.54 L500.89,1253.76 L501.18,1254.98 L501.46,1256.19 L501.74,1257.41 L502.02,1258.63 L502.30,1259.85 L502.58,1261.07 L502.85,1262.29 L503.12,1263.51 L503.39,1264.73 L503.66,1265.95 L503.93,1267.17 L504.21,1268.39 L504.48,1269.61 L504.76,1270.83 L505.04,1272.05 L505.32,1273.26 L505.61,1274.48 L505.90,1275.69 L506.20,1276.91 L506.50,1278.12 L506.81,1279.33 L507.11,1280.54 L507.42,1281.76 L507.73,1282.97 L508.04,1284.18 L508.34,1285.39 L508.65,1286.60 L508.96,1287.81 L509.26,1289.03 L509.56,1290.24 L509.85,1291.46 L510.15,1292.67 L510.44,1293.89 L510.73,1295.10 L511.01,1296.32 L511.30,1297.54 L511.58,1298.75 L511.87,1299.97 L512.15,1301.19 L512.44,1302.40 L512.73,1303.62 L513.02,1304.84 L513.32,1306.05 L513.62,1307.26 L513.92,1308.48 L514.23,1309.69 L514.55,1310.90 L514.87,1312.10 L515.19,1313.31 L515.52,1314.52 L515.85,1315.72 L516.19,1316.93 L516.53,1318.13 L516.87,1319.33 L517.21,1320.54 L517.55,1321.74 L517.90,1322.94 L518.25,1324.14 L518.60,1325.34 L518.95,1326.54 L519.31,1327.74 L519.66,1328.93 L520.02,1330.13 L520.39,1331.33 L520.75,1332.52 L521.12,1333.72 L521.49,1334.91 L521.86,1336.11 L522.23,1337.30 L522.61,1338.49 L522.98,1339.68 L523.36,1340.87 L523.74,1342.07 L524.12,1343.26 L524.50,1344.45 L524.88,1345.64 L525.27,1346.83 L525.67,1348.01 L526.07,1349.19 L526.50,1350.37 L526.93,1351.54 L527.39,1352.70 L527.86,1353.86 L528.36,1355.01 L528.86,1356.15 L529.39,1357.28 L529.92,1358.42 L530.46,1359.54 L531.01,1360.66 L531.56,1361.79 L532.11,1362.91 L532.66,1364.03 L533.21,1365.16 L533.76,1366.28 L534.31,1367.40 L534.86,1368.52 L535.42,1369.64 L535.99,1370.75 L536.56,1371.86 L537.15,1372.97 L537.74,1374.07 L538.34,1375.16 L538.95,1376.26 L539.56,1377.35 L540.19,1378.43 L540.83,1379.50 L541.49,1380.56 L542.17,1381.61 L542.88,1382.63 L543.62,1383.64 L544.37,1384.64 L545.15,1385.61 L545.96,1386.56 L546.81,1387.47 L547.72,1388.31 L548.69,1389.08 L549.73,1389.75 L550.82,1390.33 L551.95,1390.83 L553.12,1391.22 L554.32,1391.46 L555.53,1391.54 L556.74,1391.44 L557.94,1391.18 L559.11,1390.79 L560.25,1390.31 L561.35,1389.74 L562.41,1389.09 L563.40,1388.35 L564.33,1387.53 L565.19,1386.64 L566.00,1385.69 L566.74,1384.69 L567.41,1383.65 L568.02,1382.56 L568.58,1381.45 L569.09,1380.31 L569.58,1379.16 L570.05,1378.00 L570.51,1376.84 L570.97,1375.68 L571.41,1374.51 L571.84,1373.33 L572.26,1372.16 L572.67,1370.98 L573.07,1369.79 L573.46,1368.60 L573.84,1367.41 L574.22,1366.22 L574.60,1365.03 L574.98,1363.84 L575.36,1362.65 L575.74,1361.46 L576.12,1360.27 L576.51,1359.08 L576.89,1357.89 L577.27,1356.70 L577.64,1355.51 L578.02,1354.31 L578.39,1353.12 L578.76,1351.93 L579.13,1350.73 L579.50,1349.54 L579.86,1348.34 L580.23,1347.15 L580.59,1345.95 L580.95,1344.75 L581.30,1343.55 L581.66,1342.35 L582.01,1341.16 L582.36,1339.96 L582.71,1338.76 L583.06,1337.56 L583.41,1336.35 L583.75,1335.15 L584.10,1333.95 L584.44,1332.75 L584.78,1331.55 L585.13,1330.35 L585.47,1329.14 L585.81,1327.94 L586.15,1326.74 L586.48,1325.53 L586.82,1324.33 L587.15,1323.13 L587.49,1321.92 L587.82,1320.72 L588.15,1319.51 L588.47,1318.30 L588.80,1317.10 L589.12,1315.89 L589.43,1314.68 L589.75,1313.47 L590.06,1312.26 L590.37,1311.05 L590.68,1309.84 L590.99,1308.62 L591.29,1307.41 L591.60,1306.20 L591.91,1304.99 L592.22,1303.78 L592.54,1302.57 L592.85,1301.36 L593.17,1300.15 L593.49,1298.94 L593.82,1297.74 L594.14,1296.53 L594.47,1295.32 L594.80,1294.12 L595.13,1292.91 L595.46,1291.71 L595.80,1290.50 L596.12,1289.30 L596.45,1288.09 L596.77,1286.88 L597.09,1285.67 L597.40,1284.46 L597.70,1283.25 L598.01,1282.04 L598.32,1280.83 L598.65,1279.62 L599.01,1278.42 L599.39,1277.24 L599.81,1276.06 L600.26,1274.90 L600.74,1273.74 L601.26,1272.61 L601.84,1271.52 L602.51,1270.50 L603.31,1269.59 L604.23,1268.82 L605.28,1268.21 L606.40,1267.74 L607.58,1267.42 L608.79,1267.27 L610.00,1267.30 L611.20,1267.51 L612.38,1267.86 L613.52,1268.33 L614.61,1268.91 L615.65,1269.58 L616.62,1270.35 L617.53,1271.19 L618.39,1272.09 L619.22,1273.02 L620.04,1273.96 L620.85,1274.91 L621.65,1275.87 L622.44,1276.85 L623.20,1277.83 L623.96,1278.83 L624.70,1279.84 L625.42,1280.86 L626.12,1281.89 L626.81,1282.93 L627.48,1283.99 L628.13,1285.05 L628.77,1286.12 L629.40,1287.20 L630.03,1288.28 L630.66,1289.37 L631.29,1290.45 L631.92,1291.52 L632.56,1292.60 L633.20,1293.67 L633.84,1294.74 L634.48,1295.82 L635.13,1296.89 L635.77,1297.96 L636.42,1299.03 L637.06,1300.10 L637.71,1301.17 L638.35,1302.24 L639.00,1303.31 L639.65,1304.38 L640.30,1305.45 L640.95,1306.51 L641.60,1307.58 L642.25,1308.65 L642.89,1309.72 L643.53,1310.79 L644.18,1311.87 L644.82,1312.94 L645.46,1314.01 L646.09,1315.09 L646.73,1316.17 L647.36,1317.24 L647.99,1318.33 L648.61,1319.41 L649.23,1320.50 L649.84,1321.59 L650.45,1322.68 L651.05,1323.78 L651.65,1324.87 L652.25,1325.97 L652.84,1327.07 L653.44,1328.17 L654.04,1329.26 L654.64,1330.36 L655.24,1331.46 L655.85,1332.55 L656.45,1333.64 L657.06,1334.74 L657.66,1335.83 L658.27,1336.92 L658.86,1338.02 L659.45,1339.12 L660.04,1340.23 L660.62,1341.34 L661.19,1342.45 L661.75,1343.57 L662.31,1344.69 L662.86,1345.81 L663.41,1346.93 L663.96,1348.05 L664.51,1349.17 L665.06,1350.30 L665.61,1351.42 L666.17,1352.53 L666.73,1353.65 L667.29,1354.77 L667.85,1355.89 L668.42,1357.00 L668.98,1358.12 L669.54,1359.23 L670.11,1360.35 L670.67,1361.46 L671.24,1362.58 L671.80,1363.69 L672.37,1364.81 L672.95,1365.92 L673.52,1367.03 L674.09,1368.14 L674.66,1369.25 L675.23,1370.37 L675.79,1371.48 L676.34,1372.61 L676.87,1373.74 L677.39,1374.87 L677.89,1376.02 L678.37,1377.17 L678.84,1378.33 L679.30,1379.49 L679.77,1380.65 L680.26,1381.80 L680.77,1382.94 L681.32,1384.06 L681.89,1385.17 L682.49,1386.26 L683.13,1387.32 L683.99,1388.45 L685.03,1389.27 L686.25,1389.62 L687.57,1389.47 L688.90,1388.95 L689.97,1388.36 L691.00,1387.66 L691.97,1386.90 L692.89,1386.07 L693.73,1385.16 L694.52,1384.20 L695.28,1383.21 L696.02,1382.21 L696.80,1381.24 L697.62,1380.31 L698.52,1379.47 L699.50,1378.74 L700.56,1378.16 L701.89,1377.76 L703.25,1377.76 L704.58,1378.18 L705.62,1378.77 L706.61,1379.50 L707.55,1380.31 L708.43,1381.19 L709.25,1382.11 L710.03,1383.08 L710.79,1384.08 L711.55,1385.07 L712.33,1386.04 L713.14,1386.99 L713.97,1387.91 L714.84,1388.76 L715.92,1389.55 L717.16,1389.84 L718.19,1389.23 L718.83,1388.12 L719.31,1386.77 L719.63,1385.57 L719.94,1384.36 L720.23,1383.15 L720.53,1381.93 L720.82,1380.72 L721.12,1379.50 L721.40,1378.29 L721.68,1377.07 L721.95,1375.85 L722.22,1374.63 L722.47,1373.40 L722.71,1372.18 L722.95,1370.95 L723.19,1369.72 L723.42,1368.49 L723.65,1367.26 L723.87,1366.03 L724.09,1364.80 L724.31,1363.57 L724.53,1362.34 L724.74,1361.11 L724.95,1359.88 L725.16,1358.65 L725.36,1357.41 L725.56,1356.18 L725.75,1354.94 L725.94,1353.71 L726.13,1352.47 L726.31,1351.24 L726.49,1350.00 L726.68,1348.76 L726.86,1347.52 L727.03,1346.29 L727.21,1345.05 L727.39,1343.81 L727.57,1342.58 L727.75,1341.34 L727.92,1340.10 L728.10,1338.86 L728.28,1337.63 L728.47,1336.39 L728.65,1335.15 L728.83,1333.92 L729.01,1332.68 L729.20,1331.44 L729.38,1330.21 L729.56,1328.97 L729.74,1327.73 L729.92,1326.50 L730.10,1325.26 L730.28,1324.02 L730.46,1322.79 L730.64,1321.55 L730.82,1320.31 L731.01,1319.08 L731.19,1317.84 L731.37,1316.60 L731.56,1315.37 L731.75,1314.13 L731.94,1312.90 L732.13,1311.66 L732.33,1310.43 L732.53,1309.19 L732.73,1307.96 L732.94,1306.73 L733.16,1305.50 L733.37,1304.26 L733.59,1303.03 L733.80,1301.80 L734.00,1300.57 L734.19,1299.33 L734.37,1298.10 L734.55,1296.86 L734.72,1295.62 L734.88,1294.38 L735.04,1293.14 L735.20,1291.90 L735.36,1290.66 L735.51,1289.42 L735.67,1288.18 L735.82,1286.94 L735.98,1285.70 L736.14,1284.46 L736.30,1283.22 L736.47,1281.98 L736.64,1280.74 L736.81,1279.51 L737.00,1278.27 L737.19,1277.03 L737.38,1275.80 L737.58,1274.56 L737.78,1273.33 L737.98,1272.10 L738.19,1270.87 L738.40,1269.63 L738.62,1268.40 L738.84,1267.17 L739.06,1265.94 L739.28,1264.71 L739.51,1263.48 L739.74,1262.25 L739.97,1261.03 L740.21,1259.80 L740.45,1258.57 L740.69,1257.34 L740.94,1256.12 L741.18,1254.89 L741.43,1253.67 L741.68,1252.44 L741.94,1251.22 L742.20,1250.00 L742.46,1248.78 L742.72,1247.55 L742.99,1246.33 L743.27,1245.11 L743.55,1243.90 L743.83,1242.68 L744.12,1241.46 L744.42,1240.25 L744.72,1239.04 L745.03,1237.82 L745.34,1236.61 L745.65,1235.40 L745.97,1234.19 L746.29,1232.99 L746.62,1231.78 L746.96,1230.58 L747.30,1229.38 L747.66,1228.18 L748.02,1226.98 L748.40,1225.79 L748.80,1224.61 L749.21,1223.43 L749.64,1222.25 L750.08,1221.08 L750.54,1219.92 L751.02,1218.77 L751.51,1217.62 L752.01,1216.47 L752.54,1215.34 L753.07,1214.21 L753.62,1213.09 L754.19,1211.97 L754.76,1210.86 L755.35,1209.76 L755.96,1208.67 L756.57,1207.58 L757.20,1206.50 L757.85,1205.43 L758.51,1204.37 L759.20,1203.33 L759.92,1202.31 L760.66,1201.31 L761.44,1200.33 L762.24,1199.37 L763.07,1198.44 L763.92,1197.52 L764.80,1196.64 L765.71,1195.78 L766.65,1194.96 L767.62,1194.18 L768.63,1193.44 L769.66,1192.75 L770.73,1192.10 L771.81,1191.48 L772.90,1190.87 L774.00,1190.28 L775.10,1189.69 L776.20,1189.09 L777.30,1188.48 L778.39,1187.88 L779.48,1187.27 L780.57,1186.66 L781.65,1186.04 L782.73,1185.40 L783.79,1184.75 L784.85,1184.07 L785.89,1183.38 L786.91,1182.67 L787.93,1181.94 L788.93,1181.19 L789.92,1180.43 L790.90,1179.65 L791.86,1178.86 L792.81,1178.05 L793.75,1177.22 L794.67,1176.37 L795.58,1175.52 L796.49,1174.66 L797.39,1173.80 L798.30,1172.93 L799.21,1172.07 L800.11,1171.22 L801.03,1170.36 L801.94,1169.50 L802.85,1168.65 L803.76,1167.79 L804.67,1166.93 L805.58,1166.08 L806.49,1165.22 L807.40,1164.37 L808.31,1163.51 L809.23,1162.66 L810.14,1161.80 L811.05,1160.95 L811.96,1160.09 L812.88,1159.24 L813.80,1158.40 L814.72,1157.55 L815.65,1156.71 L816.57,1155.87 L817.50,1155.04 L818.43,1154.20 L819.36,1153.37 L820.30,1152.54 L821.25,1151.73 L822.21,1150.93 L823.19,1150.16 L824.20,1149.42 L825.22,1148.70 L826.25,1148.00 L827.30,1147.32 L828.38,1146.69 L829.47,1146.10 L830.60,1145.58 L831.76,1145.12 L832.94,1144.73 L834.14,1144.44 L835.35,1144.27 L836.57,1144.26 L837.78,1144.42 L838.98,1144.71 L840.14,1145.13 L841.26,1145.64 L842.34,1146.26 L843.34,1146.97 L844.28,1147.78 L845.16,1148.65 L845.99,1149.58 L846.80,1150.53 L847.58,1151.50 L848.34,1152.49 L849.08,1153.50 L849.79,1154.53 L850.47,1155.58 L851.13,1156.64 L851.77,1157.71 L852.39,1158.80 L852.99,1159.89 L853.57,1161.00 L854.13,1162.11 L854.68,1163.24 L855.21,1164.37 L855.72,1165.51 L856.21,1166.66 L856.69,1167.81 L857.16,1168.97 L857.61,1170.14 L858.05,1171.31 L858.47,1172.48 L858.89,1173.66 L859.29,1174.85 L859.68,1176.03 L860.06,1177.23 L860.41,1178.42 L860.76,1179.62 L861.09,1180.83 L861.42,1182.04 L861.74,1183.24 L862.05,1184.45 L862.36,1185.67 L862.67,1186.88 L862.97,1188.09 L863.28,1189.30 L863.58,1190.51 L863.88,1191.73 L864.18,1192.94 L864.49,1194.15 L864.78,1195.37 L865.08,1196.58 L865.38,1197.80 L865.67,1199.01 L865.96,1200.23 L866.25,1201.44 L866.53,1202.66 L866.81,1203.88 L867.10,1205.10 L867.38,1206.31 L867.66,1207.53 L867.93,1208.75 L868.21,1209.97 L868.48,1211.19 L868.76,1212.41 L869.03,1213.63 L869.29,1214.85 L869.56,1216.07 L869.82,1217.29 L870.09,1218.52 L870.35,1219.74 L870.61,1220.96 L870.86,1222.19 L871.12,1223.41 L871.38,1224.63 L871.63,1225.86 L871.89,1227.08 L872.14,1228.30 L872.40,1229.53 L872.65,1230.75 L872.91,1231.97 L873.16,1233.20 L873.42,1234.42 L873.68,1235.64 L873.94,1236.87 L874.20,1238.09 L874.47,1239.31 L874.73,1240.53 L875.00,1241.75 L875.26,1242.97 L875.53,1244.20 L875.79,1245.42 L876.05,1246.64 L876.32,1247.86 L876.57,1249.09 L876.83,1250.31 L877.08,1251.53 L877.34,1252.76 L877.58,1253.98 L877.83,1255.21 L878.07,1256.44 L878.31,1257.66 L878.54,1258.89 L878.78,1260.12 L879.01,1261.35 L879.24,1262.57 L879.47,1263.80 L879.70,1265.03 L879.92,1266.26 L880.14,1267.49 L880.36,1268.72 L880.57,1269.96 L880.78,1271.19 L880.98,1272.42 L881.18,1273.66 L881.37,1274.89 L881.56,1276.13 L881.75,1277.36 L881.93,1278.60 L882.10,1279.84 L882.27,1281.08 L882.44,1282.31 L882.60,1283.55 L882.76,1284.79 L882.91,1286.03 L883.06,1287.27 L883.21,1288.52 L883.36,1289.76 L883.51,1291.00 L883.65,1292.24 L883.79,1293.47 L883.93,1294.68 L884.08,1296.01 L884.21,1297.16" fill="none" stroke="#0505f5" stroke-width="4.68" stroke-linejoin="round" stroke-linecap="round"/>
<rect x="443.90" y="1254.60" width="3.40" height="67.76" fill="#ff0000"/>
<path d="M438.54,1321.36 L452.66,1321.36 L445.60,1335.00 Z" fill="#ff0000"/>
<rect x="552.80" y="1254.60" width="3.40" height="67.76" fill="#ff0000"/>
<path d="M547.44,1321.36 L561.56,1321.36 L554.50,1335.00 Z" fill="#ff0000"/>
<rect x="714.00" y="1254.60" width="4.80" height="67.76" fill="#ff0000"/>
<path d="M709.34,1321.36 L723.46,1321.36 L716.40,1335.00 Z" fill="#ff0000"/>
<rect x="175.70" y="865.50" width="708.60" height="527.10" fill="none" stroke="#2c2c2c" stroke-width="2.44"/>
<path d="M211.13,1392.60 V1386.95 M246.56,1392.60 V1386.95 M281.99,1392.60 V1386.95 M317.42,1392.60 V1382.86 M352.85,1392.60 V1386.95 M388.28,1392.60 V1386.95 M423.71,1392.60 V1386.95 M459.14,1392.60 V1382.86 M494.57,1392.60 V1386.95 M530.00,1392.60 V1386.95 M565.43,1392.60 V1386.95 M600.86,1392.60 V1382.86 M636.29,1392.60 V1386.95 M671.72,1392.60 V1386.95 M707.15,1392.60 V1386.95 M742.58,1392.60 V1382.86 M778.01,1392.60 V1386.95 M813.44,1392.60 V1386.95 M848.87,1392.60 V1386.95 M175.70,1359.66 H181.74 M175.70,1326.71 H181.74 M175.70,1293.77 H181.74 M175.70,1260.82 H186.41 M175.70,1227.88 H181.74 M175.70,1194.94 H181.74 M175.70,1161.99 H181.74 M175.70,1129.05 H186.41 M175.70,1096.11 H181.74 M175.70,1063.16 H181.74 M175.70,1030.22 H181.74 M175.70,997.27 H186.41 M175.70,964.33 H181.74 M175.70,931.39 H181.74 M175.70,898.44 H181.74" stroke="#2c2c2c" stroke-width="1.95" fill="none"/>
<text x="163.82" y="1405.85" font-family='"Liberation Sans", sans-serif' font-size="44.32" text-anchor="end" fill="#000">0.0</text>
<text x="163.82" y="1274.07" font-family='"Liberation Sans", sans-serif' font-size="44.32" text-anchor="end" fill="#000">0.2</text>
<text x="163.82" y="1142.30" font-family='"Liberation Sans", sans-serif' font-size="44.32" text-anchor="end" fill="#000">0.4</text>
<text x="163.82" y="1010.52" font-family='"Liberation Sans", sans-serif' font-size="44.32" text-anchor="end" fill="#000">0.6</text>
<text x="163.82" y="878.75" font-family='"Liberation Sans", sans-serif' font-size="44.32" text-anchor="end" fill="#000">0.8</text>
<text x="176.19" y="1438.87" font-family='"Liberation Sans", sans-serif' font-size="44.32" text-anchor="middle" fill="#000">0</text>
<text x="317.91" y="1438.87" font-family='"Liberation Sans", sans-serif' font-size="44.32" text-anchor="middle" fill="#000">2</text>
<text x="459.63" y="1438.87" font-family='"Liberation Sans", sans-serif' font-size="44.32" text-anchor="middle" fill="#000">4</text>
<text x="601.35" y="1438.87" font-family='"Liberation Sans", sans-serif' font-size="44.32" text-anchor="middle" fill="#000">6</text>
<text x="743.07" y="1438.87" font-family='"Liberation Sans", sans-serif' font-size="44.32" text-anchor="middle" fill="#000">8</text>
<text x="884.79" y="1438.87" font-family='"Liberation Sans", sans-serif' font-size="44.32" text-anchor="middle" fill="#000">10</text>
<text x="530.00" y="1493.02" font-family='"Liberation Serif", serif' font-size="44.41" text-anchor="middle" fill="#000">Frequency (THz)</text>
<text x="0" y="0" transform="translate(67.10,1156.24) rotate(-90)" font-family='"Liberation Serif", serif' font-size="45.00" text-anchor="middle" fill="#000">Transmission</text>
<text x="22.29" y="1487.66" font-family='"Liberation Serif", serif' font-size="59.41" fill="#000">(c)</text>
<rect x="415.89" y="865.50" width="260.45" height="100.71" fill="#fff" stroke="#4a4a4a" stroke-width="1.56"/>
<line x1="439.17" y1="899.59" x2="502.67" y2="899.59" stroke="#0505f5" stroke-width="4.68" stroke-linecap="round"/>
<rect x="460.21" y="933.00" width="22.40" height="22.40" fill="none" stroke="#4242ee" stroke-width="1.46" stroke-opacity="0.88"/>
<text x="507.74" y="908.55" font-family='"Liberation Serif", serif' font-size="27.27" fill="#000" stroke="#000" stroke-width="0.45">Sim: h<tspan font-size="15.10" dy="8.28" stroke="none" fill="#3a4450">1</tspan><tspan dy="-8.28">=20μm</tspan></text>
<text x="507.74" y="953.16" font-family='"Liberation Serif", serif' font-size="27.27" fill="#000" stroke="#000" stroke-width="0.45">Cal: h<tspan font-size="15.10" dy="8.28" stroke="none" fill="#3a4450">1</tspan><tspan dy="-8.28">=20μm</tspan></text>
</g>
</svg>
</body></html>
